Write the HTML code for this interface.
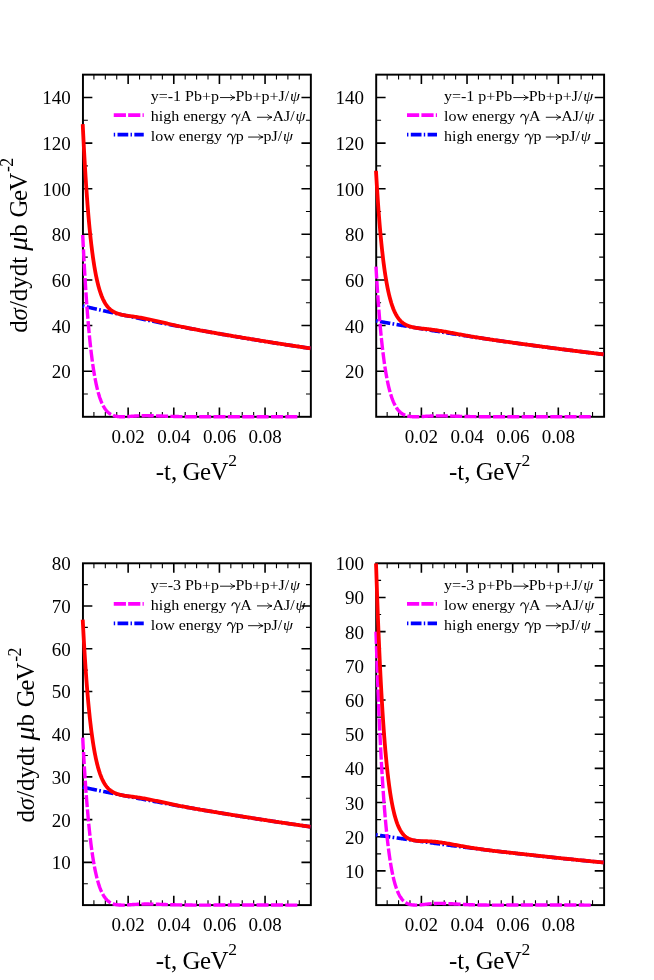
<!DOCTYPE html>
<html><head><meta charset="utf-8"><title>plot</title>
<style>
html,body{margin:0;padding:0;background:#fff;}
svg{display:block;will-change:transform;}
text{font-family:"Liberation Serif",serif;fill:#000;}
.tk{font-size:19.0px;}
.lg{font-size:16.0px;}
.ti{font-size:24.9px;}
.gi{font-style:italic;}
</style></head><body>
<svg width="654" height="980" viewBox="0 0 654 980">
<rect x="0" y="0" width="654" height="980" fill="#fff"/>
<g>
<rect x="82.95" y="74.65" width="227.9" height="342.15" fill="none" stroke="#000" stroke-width="1.95"/>
<path d="M128.14 416.8v-9.4M128.14 74.65v9.4M173.78 416.8v-9.4M173.78 74.65v9.4M219.42 416.8v-9.4M219.42 74.65v9.4M265.06 416.8v-9.4M265.06 74.65v9.4M82.95 371.18h9.4M310.85 371.18h-9.4M82.95 325.56h9.4M310.85 325.56h-9.4M82.95 279.94h9.4M310.85 279.94h-9.4M82.95 234.32h9.4M310.85 234.32h-9.4M82.95 188.7h9.4M310.85 188.7h-9.4M82.95 143.08h9.4M310.85 143.08h-9.4M82.95 97.46h9.4M310.85 97.46h-9.4" stroke="#000" stroke-width="1.6" fill="none"/>
<path d="M93.91 416.8v-4.9M93.91 74.65v4.9M105.32 416.8v-4.9M105.32 74.65v4.9M116.73 416.8v-4.9M116.73 74.65v4.9M139.55 416.8v-4.9M139.55 74.65v4.9M150.96 416.8v-4.9M150.96 74.65v4.9M162.37 416.8v-4.9M162.37 74.65v4.9M185.19 416.8v-4.9M185.19 74.65v4.9M196.6 416.8v-4.9M196.6 74.65v4.9M208.01 416.8v-4.9M208.01 74.65v4.9M230.83 416.8v-4.9M230.83 74.65v4.9M242.24 416.8v-4.9M242.24 74.65v4.9M253.65 416.8v-4.9M253.65 74.65v4.9M276.47 416.8v-4.9M276.47 74.65v4.9M287.88 416.8v-4.9M287.88 74.65v4.9M299.29 416.8v-4.9M299.29 74.65v4.9M82.95 393.99h4.9M310.85 393.99h-4.9M82.95 348.37h4.9M310.85 348.37h-4.9M82.95 302.75h4.9M310.85 302.75h-4.9M82.95 257.13h4.9M310.85 257.13h-4.9M82.95 211.51h4.9M310.85 211.51h-4.9M82.95 165.89h4.9M310.85 165.89h-4.9M82.95 120.27h4.9M310.85 120.27h-4.9" stroke="#000" stroke-width="1.1" fill="none"/>
<text class="tk" x="128.24" y="442.5" text-anchor="middle">0.02</text>
<text class="tk" x="173.88" y="442.5" text-anchor="middle">0.04</text>
<text class="tk" x="219.52" y="442.5" text-anchor="middle">0.06</text>
<text class="tk" x="265.16" y="442.5" text-anchor="middle">0.08</text>
<text class="tk" x="70.75" y="378.18" text-anchor="end">20</text>
<text class="tk" x="70.75" y="332.56" text-anchor="end">40</text>
<text class="tk" x="70.75" y="286.94" text-anchor="end">60</text>
<text class="tk" x="70.75" y="241.32" text-anchor="end">80</text>
<text class="tk" x="70.75" y="195.7" text-anchor="end">100</text>
<text class="tk" x="70.75" y="150.08" text-anchor="end">120</text>
<text class="tk" x="70.75" y="104.46" text-anchor="end">140</text>
<text class="ti" x="155.75" y="480">-t, <tspan dx="-1">G</tspan><tspan dx="-0.4">e</tspan><tspan dx="-0.6">V</tspan><tspan dy="-14" dx="-0.3" font-size="17.5px">2</tspan></text>
<text class="ti" transform="translate(26.6 332.85) rotate(-90)">d<tspan class="gi">σ</tspan>/dydt <tspan class="gi" font-size="28px">μ</tspan>b <tspan dx="0.5">G</tspan><tspan dx="-1.5">e</tspan><tspan dx="-0.8">V</tspan><tspan dy="-13.4" dx="0.7" font-size="17.8px">-</tspan><tspan dx="-0.7" font-size="17.8px">2</tspan></text>
<polyline points="82.73,305.94 83.01,306.01 83.3,306.08 83.58,306.14 83.86,306.21 84.15,306.28 84.43,306.34 84.71,306.41 85,306.47 85.28,306.54 85.57,306.61 85.85,306.67 86.13,306.74 86.42,306.81 86.7,306.87 86.99,306.94 87.27,307 87.55,307.07 87.84,307.14 88.12,307.2 88.4,307.27 88.69,307.33 88.97,307.4 89.26,307.46 89.54,307.53 89.82,307.6 90.11,307.66 90.39,307.73 90.68,307.79 90.96,307.86 91.24,307.92 91.53,307.99 91.81,308.05 92.09,308.12 92.38,308.18 92.66,308.25 92.95,308.32 93.23,308.38 93.51,308.45 93.8,308.51 94.08,308.58 94.36,308.64 94.65,308.71 94.93,308.77 95.22,308.84 95.5,308.9 95.78,308.96 96.07,309.03 96.35,309.09 96.64,309.16 96.92,309.22 97.2,309.29 97.49,309.35 97.77,309.42 98.05,309.48 98.34,309.55 98.62,309.61 98.91,309.68 99.19,309.74 99.47,309.8 99.76,309.87 100.04,309.93 100.33,310 100.61,310.06 100.89,310.12 101.18,310.19 101.46,310.25 101.74,310.32 102.03,310.38 102.31,310.44 102.6,310.51 102.88,310.57 103.16,310.64 103.45,310.7 103.73,310.76 104.01,310.83 104.3,310.89 104.58,310.95 104.87,311.02 105.15,311.08 105.43,311.15 105.72,311.21 106,311.27 106.29,311.34 106.57,311.4 106.85,311.46 107.14,311.53 107.42,311.59 107.7,311.65 107.99,311.71 108.27,311.78 108.56,311.84 108.84,311.9 109.12,311.97 109.41,312.03 109.69,312.09 109.98,312.16 110.26,312.22 110.54,312.28 110.83,312.34 111.11,312.41 111.39,312.47 111.68,312.53 111.96,312.59 112.25,312.66 112.53,312.72 112.81,312.78 113.1,312.84 113.38,312.91 113.66,312.97 113.95,313.03 114.23,313.09 114.52,313.16 114.8,313.22 115.08,313.28 115.37,313.34 115.65,313.41 115.94,313.47 116.22,313.53 116.5,313.59 116.79,313.65 117.07,313.72 117.35,313.78 117.64,313.84 117.92,313.9 118.21,313.96 118.49,314.02 118.77,314.09 119.06,314.15 119.34,314.21 119.63,314.27 119.91,314.33 120.19,314.39 120.48,314.46 120.76,314.52 121.04,314.58 121.33,314.64 121.61,314.7 121.9,314.76 122.18,314.82 122.46,314.89 122.75,314.95 123.03,315.01 123.31,315.07 123.6,315.13 123.88,315.19 124.17,315.25 124.45,315.31 124.73,315.37 125.02,315.43 125.3,315.5 125.59,315.56 125.87,315.62 126.15,315.68 126.44,315.74 126.72,315.8 127,315.86 127.29,315.92 127.57,315.98 127.86,316.04 128.14,316.1 129.28,316.35 130.42,316.59 131.56,316.83 132.7,317.07 133.84,317.31 134.98,317.55 136.12,317.79 137.26,318.03 138.4,318.26 139.54,318.5 140.68,318.74 141.81,318.98 142.95,319.21 144.09,319.45 145.23,319.68 146.37,319.91 147.51,320.15 148.65,320.38 149.79,320.61 150.93,320.84 152.07,321.08 153.21,321.31 154.35,321.54 155.49,321.77 156.63,322 157.77,322.22 158.91,322.45 160.05,322.68 161.19,322.91 162.33,323.13 163.47,323.36 164.61,323.58 165.75,323.81 166.89,324.03 168.03,324.25 169.16,324.48 170.3,324.7 171.44,324.92 172.58,325.14 173.72,325.36 174.86,325.58 176,325.8 177.14,326.02 178.28,326.24 179.42,326.46 180.56,326.68 181.7,326.89 182.84,327.11 183.98,327.33 185.12,327.54 186.26,327.76 187.4,327.97 188.54,328.19 189.68,328.4 190.82,328.61 191.96,328.83 193.1,329.04 194.24,329.25 195.37,329.46 196.51,329.67 197.65,329.88 198.79,330.09 199.93,330.3 201.07,330.51 202.21,330.71 203.35,330.92 204.49,331.13 205.63,331.34 206.77,331.54 207.91,331.75 209.05,331.95 210.19,332.16 211.33,332.36 212.47,332.56 213.61,332.77 214.75,332.97 215.89,333.17 217.03,333.37 218.17,333.57 219.31,333.77 220.45,333.97 221.59,334.17 222.72,334.37 223.86,334.57 225,334.77 226.14,334.97 227.28,335.16 228.42,335.36 229.56,335.56 230.7,335.75 231.84,335.95 232.98,336.14 234.12,336.34 235.26,336.53 236.4,336.72 237.54,336.92 238.68,337.11 239.82,337.3 240.96,337.49 242.1,337.68 243.24,337.87 244.38,338.06 245.52,338.25 246.66,338.44 247.8,338.63 248.93,338.82 250.07,339.01 251.21,339.2 252.35,339.38 253.49,339.57 254.63,339.75 255.77,339.94 256.91,340.13 258.05,340.31 259.19,340.49 260.33,340.68 261.47,340.86 262.61,341.04 263.75,341.23 264.89,341.41 266.03,341.59 267.17,341.77 268.31,341.95 269.45,342.13 270.59,342.31 271.73,342.49 272.87,342.67 274.01,342.85 275.15,343.03 276.28,343.21 277.42,343.38 278.56,343.56 279.7,343.74 280.84,343.91 281.98,344.09 283.12,344.26 284.26,344.44 285.4,344.61 286.54,344.79 287.68,344.96 288.82,345.13 289.96,345.31 291.1,345.48 292.24,345.65 293.38,345.82 294.52,345.99 295.66,346.16 296.8,346.33 297.94,346.5 299.08,346.67 300.22,346.84 301.36,347.01 302.49,347.18 303.63,347.35 304.77,347.51 305.91,347.68 307.05,347.85 308.19,348.01 309.33,348.18 310.47,348.34" fill="none" stroke="#0000ff" stroke-width="3.6" stroke-dasharray="1.7 2.4 10.4 2.3"/>
<polyline points="82.73,235 83.01,240.9 83.3,246.62 83.58,252.18 83.86,257.57 84.15,262.8 84.43,267.87 84.71,272.8 85,277.58 85.28,282.22 85.57,286.71 85.85,291.08 86.13,295.31 86.42,299.41 86.7,303.39 86.99,307.25 87.27,310.99 87.55,314.62 87.84,318.14 88.12,321.55 88.4,324.85 88.69,328.06 88.97,331.16 89.26,334.17 89.54,337.08 89.82,339.91 90.11,342.64 90.39,345.29 90.68,347.85 90.96,350.34 91.24,352.74 91.53,355.07 91.81,357.33 92.09,359.51 92.38,361.62 92.66,363.66 92.95,365.64 93.23,367.55 93.51,369.41 93.8,371.2 94.08,372.93 94.36,374.6 94.65,376.22 94.93,377.79 95.22,379.3 95.5,380.76 95.78,382.17 96.07,383.54 96.35,384.86 96.64,386.13 96.92,387.36 97.2,388.55 97.49,389.7 97.77,390.8 98.05,391.87 98.34,392.9 98.62,393.9 98.91,394.86 99.19,395.78 99.47,396.68 99.76,397.54 100.04,398.37 100.33,399.17 100.61,399.94 100.89,400.68 101.18,401.39 101.46,402.08 101.74,402.74 102.03,403.38 102.31,404 102.6,404.59 102.88,405.15 103.16,405.7 103.45,406.23 103.73,406.73 104.01,407.21 104.3,407.68 104.58,408.13 104.87,408.56 105.15,408.97 105.43,409.36 105.72,409.74 106,410.11 106.29,410.46 106.57,410.79 106.85,411.11 107.14,411.42 107.42,411.71 107.7,411.99 107.99,412.26 108.27,412.51 108.56,412.76 108.84,412.99 109.12,413.22 109.41,413.43 109.69,413.63 109.98,413.83 110.26,414.01 110.54,414.19 110.83,414.36 111.11,414.52 111.39,414.67 111.68,414.81 111.96,414.95 112.25,415.08 112.53,415.2 112.81,415.31 113.1,415.42 113.38,415.53 113.66,415.63 113.95,415.72 114.23,415.81 114.52,415.89 114.8,415.97 115.08,416.04 115.37,416.11 115.65,416.17 115.94,416.23 116.22,416.29 116.5,416.34 116.79,416.39 117.07,416.43 117.35,416.47 117.64,416.51 117.92,416.55 118.21,416.58 118.49,416.61 118.77,416.64 119.06,416.66 119.34,416.68 119.63,416.7 119.91,416.72 120.19,416.73 120.48,416.75 120.76,416.76 121.04,416.77 121.33,416.78 121.61,416.79 121.9,416.79 122.18,416.8 122.46,416.8 122.75,416.8 123.03,416.8 123.31,416.8 123.6,416.79 123.88,416.79 124.17,416.78 124.45,416.77 124.73,416.76 125.02,416.75 125.3,416.74 125.59,416.73 125.87,416.71 126.15,416.69 126.44,416.68 126.72,416.66 127,416.64 127.29,416.62 127.57,416.6 127.86,416.58 128.14,416.56 129.28,416.47 130.42,416.38 131.56,416.29 132.7,416.21 133.84,416.12 134.98,416.04 136.12,415.97 137.26,415.9 138.4,415.85 139.54,415.8 140.68,415.76 141.81,415.72 142.95,415.7 144.09,415.68 145.23,415.67 146.37,415.67 147.51,415.67 148.65,415.68 149.79,415.7 150.93,415.71 152.07,415.74 153.21,415.77 154.35,415.8 155.49,415.83 156.63,415.87 157.77,415.9 158.91,415.94 160.05,415.98 161.19,416.03 162.33,416.07 163.47,416.11 164.61,416.15 165.75,416.19 166.89,416.23 168.03,416.27 169.16,416.31 170.3,416.35 171.44,416.39 172.58,416.42 173.72,416.46 174.86,416.49 176,416.52 177.14,416.55 178.28,416.57 179.42,416.6 180.56,416.62 181.7,416.64 182.84,416.66 183.98,416.68 185.12,416.7 186.26,416.71 187.4,416.73 188.54,416.74 189.68,416.75 190.82,416.76 191.96,416.77 193.1,416.78 194.24,416.78 195.37,416.79 196.51,416.79 197.65,416.8 198.79,416.8 199.93,416.8 201.07,416.8 202.21,416.8 203.35,416.8 204.49,416.8 205.63,416.8 206.77,416.79 207.91,416.79 209.05,416.79 210.19,416.79 211.33,416.78 212.47,416.78 213.61,416.78 214.75,416.77 215.89,416.77 217.03,416.77 218.17,416.76 219.31,416.76 220.45,416.75 221.59,416.75 222.72,416.75 223.86,416.74 225,416.74 226.14,416.74 227.28,416.73 228.42,416.73 229.56,416.73 230.7,416.73 231.84,416.72 232.98,416.72 234.12,416.72 235.26,416.72 236.4,416.72 237.54,416.72 238.68,416.72 239.82,416.72 240.96,416.72 242.1,416.71 243.24,416.71 244.38,416.71 245.52,416.72 246.66,416.72 247.8,416.72 248.93,416.72 250.07,416.72 251.21,416.72 252.35,416.72 253.49,416.72 254.63,416.72 255.77,416.72 256.91,416.73 258.05,416.73 259.19,416.73 260.33,416.73 261.47,416.73 262.61,416.74 263.75,416.74 264.89,416.74 266.03,416.74 267.17,416.74 268.31,416.75 269.45,416.75 270.59,416.75 271.73,416.75 272.87,416.75 274.01,416.76 275.15,416.76 276.28,416.76 277.42,416.76 278.56,416.76 279.7,416.77 280.84,416.77 281.98,416.77 283.12,416.77 284.26,416.77 285.4,416.78 286.54,416.78 287.68,416.78 288.82,416.78 289.96,416.78 291.1,416.78 292.24,416.79 293.38,416.79 294.52,416.79 295.66,416.79 296.8,416.79 297.5,416.79" fill="none" stroke="#ff00ff" stroke-width="3.4" stroke-dasharray="12.07 2.3"/>
<polyline points="82.73,124.15 83.01,130.11 83.3,135.9 83.58,141.52 83.86,146.98 84.15,152.27 84.43,157.42 84.71,162.41 85,167.25 85.28,171.96 85.57,176.52 85.85,180.95 86.13,185.25 86.42,189.42 86.7,193.46 86.99,197.39 87.27,201.2 87.55,204.89 87.84,208.48 88.12,211.95 88.4,215.32 88.69,218.59 88.97,221.76 89.26,224.83 89.54,227.81 89.82,230.7 90.11,233.5 90.39,236.22 90.68,238.85 90.96,241.4 91.24,243.87 91.53,246.26 91.81,248.58 92.09,250.83 92.38,253 92.66,255.11 92.95,257.16 93.23,259.13 93.51,261.05 93.8,262.91 94.08,264.7 94.36,266.44 94.65,268.13 94.93,269.76 95.22,271.33 95.5,272.86 95.78,274.34 96.07,275.77 96.35,277.15 96.64,278.49 96.92,279.79 97.2,281.04 97.49,282.25 97.77,283.42 98.05,284.55 98.34,285.65 98.62,286.71 98.91,287.73 99.19,288.72 99.47,289.68 99.76,290.61 100.04,291.5 100.33,292.36 100.61,293.2 100.89,294 101.18,294.78 101.46,295.53 101.74,296.26 102.03,296.96 102.31,297.64 102.6,298.29 102.88,298.93 103.16,299.54 103.45,300.12 103.73,300.69 104.01,301.24 104.3,301.77 104.58,302.28 104.87,302.78 105.15,303.25 105.43,303.71 105.72,304.15 106,304.58 106.29,304.99 106.57,305.39 106.85,305.77 107.14,306.14 107.42,306.5 107.7,306.84 107.99,307.17 108.27,307.49 108.56,307.8 108.84,308.1 109.12,308.38 109.41,308.66 109.69,308.93 109.98,309.18 110.26,309.43 110.54,309.67 110.83,309.9 111.11,310.12 111.39,310.34 111.68,310.54 111.96,310.74 112.25,310.93 112.53,311.12 112.81,311.3 113.1,311.47 113.38,311.64 113.66,311.8 113.95,311.95 114.23,312.1 114.52,312.25 114.8,312.39 115.08,312.52 115.37,312.65 115.65,312.78 115.94,312.9 116.22,313.02 116.5,313.13 116.79,313.24 117.07,313.35 117.35,313.45 117.64,313.55 117.92,313.65 118.21,313.74 118.49,313.83 118.77,313.92 119.06,314.01 119.34,314.09 119.63,314.17 119.91,314.25 120.19,314.33 120.48,314.4 120.76,314.48 121.04,314.55 121.33,314.62 121.61,314.69 121.9,314.75 122.18,314.82 122.46,314.88 122.75,314.95 123.03,315.01 123.31,315.07 123.6,315.12 123.88,315.18 124.17,315.23 124.45,315.29 124.73,315.34 125.02,315.39 125.3,315.44 125.59,315.48 125.87,315.53 126.15,315.57 126.44,315.62 126.72,315.66 127,315.7 127.29,315.74 127.57,315.78 127.86,315.82 128.14,315.86 129.28,316.02 130.42,316.17 131.56,316.32 132.7,316.47 133.84,316.63 134.98,316.79 136.12,316.96 137.26,317.13 138.4,317.31 139.54,317.5 140.68,317.7 141.81,317.9 142.95,318.11 144.09,318.33 145.23,318.55 146.37,318.78 147.51,319.02 148.65,319.26 149.79,319.51 150.93,319.76 152.07,320.01 153.21,320.27 154.35,320.53 155.49,320.8 156.63,321.06 157.77,321.33 158.91,321.6 160.05,321.86 161.19,322.13 162.33,322.4 163.47,322.67 164.61,322.93 165.75,323.2 166.89,323.46 168.03,323.73 169.16,323.99 170.3,324.25 171.44,324.51 172.58,324.76 173.72,325.02 174.86,325.27 176,325.52 177.14,325.77 178.28,326.01 179.42,326.26 180.56,326.5 181.7,326.74 182.84,326.98 183.98,327.21 185.12,327.44 186.26,327.67 187.4,327.9 188.54,328.13 189.68,328.35 190.82,328.57 191.96,328.8 193.1,329.01 194.24,329.23 195.37,329.45 196.51,329.66 197.65,329.88 198.79,330.09 199.93,330.3 201.07,330.51 202.21,330.71 203.35,330.92 204.49,331.13 205.63,331.33 206.77,331.54 207.91,331.74 209.05,331.94 210.19,332.14 211.33,332.34 212.47,332.54 213.61,332.74 214.75,332.94 215.89,333.14 217.03,333.34 218.17,333.53 219.31,333.73 220.45,333.93 221.59,334.12 222.72,334.32 223.86,334.51 225,334.71 226.14,334.9 227.28,335.1 228.42,335.29 229.56,335.49 230.7,335.68 231.84,335.87 232.98,336.06 234.12,336.26 235.26,336.45 236.4,336.64 237.54,336.83 238.68,337.03 239.82,337.22 240.96,337.41 242.1,337.6 243.24,337.79 244.38,337.98 245.52,338.17 246.66,338.36 247.8,338.55 248.93,338.74 250.07,338.93 251.21,339.11 252.35,339.3 253.49,339.49 254.63,339.68 255.77,339.86 256.91,340.05 258.05,340.24 259.19,340.42 260.33,340.61 261.47,340.8 262.61,340.98 263.75,341.16 264.89,341.35 266.03,341.53 267.17,341.72 268.31,341.9 269.45,342.08 270.59,342.26 271.73,342.44 272.87,342.63 274.01,342.81 275.15,342.99 276.28,343.17 277.42,343.35 278.56,343.52 279.7,343.7 280.84,343.88 281.98,344.06 283.12,344.24 284.26,344.41 285.4,344.59 286.54,344.76 287.68,344.94 288.82,345.11 289.96,345.29 291.1,345.46 292.24,345.63 293.38,345.81 294.52,345.98 295.66,346.15 296.8,346.32 297.94,346.49 299.08,346.66 300.22,346.83 301.36,347 302.49,347.17 303.63,347.34 304.77,347.51 305.91,347.68 307.05,347.84 308.19,348.01 309.33,348.18 310.47,348.34" fill="none" stroke="#ff0000" stroke-width="3.8" stroke-linejoin="round"/>
<line x1="113.75" y1="115.15" x2="143.75" y2="115.15" stroke="#ff00ff" stroke-width="3.7" stroke-dasharray="12.2 2.2"/>
<line x1="113.75" y1="134.65" x2="143.75" y2="134.65" stroke="#0000ff" stroke-width="3.7" stroke-dasharray="1.4 2.4 10.7 2.3"/>
<text class="lg" transform="translate(150.75 101.35) scale(1 0.95)">y=-1 </text>
<text class="lg" transform="translate(185.1 101.35) scale(1 0.95)">Pb+p</text>
<path d="M220.02 97.55H235.02M230.42 94.85Q232.42 96.95 235.02 97.55Q232.42 98.15 230.42 100.25" fill="none" stroke="#000" stroke-width="0.9"/>
<text class="lg" transform="translate(235.62 101.35) scale(1 0.95)">Pb+p+J/</text>
<text class="lg gi" transform="translate(290.04 101.35) scale(1 0.95)">ψ</text>
<text class="lg" transform="translate(150.75 121.05) scale(1 0.95)">high energy </text>
<g transform="translate(231.74 121.05)" fill="none" stroke="#000" stroke-linecap="round"><path d="M0.2,-4C0.6,-5.8 1.4,-6.9 2.6,-6.9C4.6,-6.9 5.7,-3.5 5.4,-0.5L4.9,3" stroke-width="1.05"/><path d="M8.3,-6.9C7.6,-4.5 6.5,-2.3 5.4,-0.5" stroke-width="0.8"/></g>
<text class="lg" transform="translate(240.24 121.05) scale(1 0.95)">A</text>
<path d="M256.99 117.25H271.99M267.39 114.55Q269.39 116.65 271.99 117.25Q269.39 117.85 267.39 119.95" fill="none" stroke="#000" stroke-width="0.9"/>
<text class="lg" transform="translate(272.49 121.05) scale(1 0.95)">AJ/</text>
<text class="lg gi" transform="translate(295.42 121.05) scale(1 0.95)">ψ</text>
<text class="lg" transform="translate(150.75 140.85) scale(1 0.95)">low energy </text>
<g transform="translate(227.29 140.85)" fill="none" stroke="#000" stroke-linecap="round"><path d="M0.2,-4C0.6,-5.8 1.4,-6.9 2.6,-6.9C4.6,-6.9 5.7,-3.5 5.4,-0.5L4.9,3" stroke-width="1.05"/><path d="M8.3,-6.9C7.6,-4.5 6.5,-2.3 5.4,-0.5" stroke-width="0.8"/></g>
<text class="lg" transform="translate(235.79 140.85) scale(1 0.95)">p</text>
<path d="M248.09 137.05H263.09M258.49 134.35Q260.49 136.45 263.09 137.05Q260.49 137.65 258.49 139.75" fill="none" stroke="#000" stroke-width="0.9"/>
<text class="lg" transform="translate(263.59 140.85) scale(1 0.95)">pJ/</text>
<text class="lg gi" transform="translate(282.96 140.85) scale(1 0.95)">ψ</text>
</g>
<g>
<rect x="376.2" y="74.65" width="227.9" height="342.15" fill="none" stroke="#000" stroke-width="1.95"/>
<path d="M421.39 416.8v-9.4M421.39 74.65v9.4M467.03 416.8v-9.4M467.03 74.65v9.4M512.67 416.8v-9.4M512.67 74.65v9.4M558.31 416.8v-9.4M558.31 74.65v9.4M376.2 371.18h9.4M604.1 371.18h-9.4M376.2 325.56h9.4M604.1 325.56h-9.4M376.2 279.94h9.4M604.1 279.94h-9.4M376.2 234.32h9.4M604.1 234.32h-9.4M376.2 188.7h9.4M604.1 188.7h-9.4M376.2 143.08h9.4M604.1 143.08h-9.4M376.2 97.46h9.4M604.1 97.46h-9.4" stroke="#000" stroke-width="1.6" fill="none"/>
<path d="M387.16 416.8v-4.9M387.16 74.65v4.9M398.57 416.8v-4.9M398.57 74.65v4.9M409.98 416.8v-4.9M409.98 74.65v4.9M432.8 416.8v-4.9M432.8 74.65v4.9M444.21 416.8v-4.9M444.21 74.65v4.9M455.62 416.8v-4.9M455.62 74.65v4.9M478.44 416.8v-4.9M478.44 74.65v4.9M489.85 416.8v-4.9M489.85 74.65v4.9M501.26 416.8v-4.9M501.26 74.65v4.9M524.08 416.8v-4.9M524.08 74.65v4.9M535.49 416.8v-4.9M535.49 74.65v4.9M546.9 416.8v-4.9M546.9 74.65v4.9M569.72 416.8v-4.9M569.72 74.65v4.9M581.13 416.8v-4.9M581.13 74.65v4.9M592.54 416.8v-4.9M592.54 74.65v4.9M376.2 393.99h4.9M604.1 393.99h-4.9M376.2 348.37h4.9M604.1 348.37h-4.9M376.2 302.75h4.9M604.1 302.75h-4.9M376.2 257.13h4.9M604.1 257.13h-4.9M376.2 211.51h4.9M604.1 211.51h-4.9M376.2 165.89h4.9M604.1 165.89h-4.9M376.2 120.27h4.9M604.1 120.27h-4.9" stroke="#000" stroke-width="1.1" fill="none"/>
<text class="tk" x="421.49" y="442.5" text-anchor="middle">0.02</text>
<text class="tk" x="467.13" y="442.5" text-anchor="middle">0.04</text>
<text class="tk" x="512.77" y="442.5" text-anchor="middle">0.06</text>
<text class="tk" x="558.41" y="442.5" text-anchor="middle">0.08</text>
<text class="tk" x="364" y="378.18" text-anchor="end">20</text>
<text class="tk" x="364" y="332.56" text-anchor="end">40</text>
<text class="tk" x="364" y="286.94" text-anchor="end">60</text>
<text class="tk" x="364" y="241.32" text-anchor="end">80</text>
<text class="tk" x="364" y="195.7" text-anchor="end">100</text>
<text class="tk" x="364" y="150.08" text-anchor="end">120</text>
<text class="tk" x="364" y="104.46" text-anchor="end">140</text>
<text class="ti" x="449" y="480">-t, <tspan dx="-1">G</tspan><tspan dx="-0.4">e</tspan><tspan dx="-0.6">V</tspan><tspan dy="-14" dx="-0.3" font-size="17.5px">2</tspan></text>
<polyline points="375.98,320.84 376.26,320.89 376.55,320.94 376.83,320.99 377.11,321.04 377.4,321.1 377.68,321.15 377.96,321.2 378.25,321.25 378.53,321.3 378.82,321.35 379.1,321.4 379.38,321.45 379.67,321.5 379.95,321.56 380.24,321.61 380.52,321.66 380.8,321.71 381.09,321.76 381.37,321.81 381.65,321.86 381.94,321.91 382.22,321.96 382.51,322.01 382.79,322.07 383.07,322.12 383.36,322.17 383.64,322.22 383.93,322.27 384.21,322.32 384.49,322.37 384.78,322.42 385.06,322.47 385.34,322.52 385.63,322.57 385.91,322.62 386.2,322.67 386.48,322.72 386.76,322.77 387.05,322.82 387.33,322.87 387.61,322.92 387.9,322.97 388.18,323.02 388.47,323.08 388.75,323.13 389.03,323.18 389.32,323.23 389.6,323.28 389.89,323.33 390.17,323.38 390.45,323.43 390.74,323.48 391.02,323.53 391.3,323.58 391.59,323.63 391.87,323.68 392.16,323.73 392.44,323.78 392.72,323.83 393.01,323.88 393.29,323.93 393.58,323.98 393.86,324.02 394.14,324.07 394.43,324.12 394.71,324.17 394.99,324.22 395.28,324.27 395.56,324.32 395.85,324.37 396.13,324.42 396.41,324.47 396.7,324.52 396.98,324.57 397.26,324.62 397.55,324.67 397.83,324.72 398.12,324.77 398.4,324.82 398.68,324.87 398.97,324.92 399.25,324.97 399.54,325.01 399.82,325.06 400.1,325.11 400.39,325.16 400.67,325.21 400.95,325.26 401.24,325.31 401.52,325.36 401.81,325.41 402.09,325.46 402.37,325.51 402.66,325.55 402.94,325.6 403.23,325.65 403.51,325.7 403.79,325.75 404.08,325.8 404.36,325.85 404.64,325.9 404.93,325.94 405.21,325.99 405.5,326.04 405.78,326.09 406.06,326.14 406.35,326.19 406.63,326.24 406.91,326.28 407.2,326.33 407.48,326.38 407.77,326.43 408.05,326.48 408.33,326.53 408.62,326.58 408.9,326.62 409.19,326.67 409.47,326.72 409.75,326.77 410.04,326.82 410.32,326.87 410.6,326.91 410.89,326.96 411.17,327.01 411.46,327.06 411.74,327.11 412.02,327.15 412.31,327.2 412.59,327.25 412.88,327.3 413.16,327.35 413.44,327.39 413.73,327.44 414.01,327.49 414.29,327.54 414.58,327.59 414.86,327.63 415.15,327.68 415.43,327.73 415.71,327.78 416,327.82 416.28,327.87 416.56,327.92 416.85,327.97 417.13,328.01 417.42,328.06 417.7,328.11 417.98,328.16 418.27,328.2 418.55,328.25 418.84,328.3 419.12,328.35 419.4,328.39 419.69,328.44 419.97,328.49 420.25,328.54 420.54,328.58 420.82,328.63 421.11,328.68 421.39,328.73 422.53,328.92 423.67,329.1 424.81,329.29 425.95,329.48 427.09,329.67 428.23,329.86 429.37,330.04 430.51,330.23 431.65,330.42 432.79,330.6 433.93,330.79 435.06,330.97 436.2,331.16 437.34,331.34 438.48,331.52 439.62,331.71 440.76,331.89 441.9,332.07 443.04,332.25 444.18,332.44 445.32,332.62 446.46,332.8 447.6,332.98 448.74,333.16 449.88,333.34 451.02,333.52 452.16,333.7 453.3,333.88 454.44,334.06 455.58,334.23 456.72,334.41 457.86,334.59 459,334.76 460.14,334.94 461.28,335.12 462.41,335.29 463.55,335.47 464.69,335.64 465.83,335.82 466.97,335.99 468.11,336.16 469.25,336.34 470.39,336.51 471.53,336.68 472.67,336.86 473.81,337.03 474.95,337.2 476.09,337.37 477.23,337.54 478.37,337.71 479.51,337.88 480.65,338.05 481.79,338.22 482.93,338.39 484.07,338.56 485.21,338.73 486.35,338.89 487.49,339.06 488.62,339.23 489.76,339.4 490.9,339.56 492.04,339.73 493.18,339.89 494.32,340.06 495.46,340.22 496.6,340.39 497.74,340.55 498.88,340.72 500.02,340.88 501.16,341.04 502.3,341.21 503.44,341.37 504.58,341.53 505.72,341.69 506.86,341.85 508,342.02 509.14,342.18 510.28,342.34 511.42,342.5 512.56,342.66 513.7,342.82 514.84,342.98 515.97,343.13 517.11,343.29 518.25,343.45 519.39,343.61 520.53,343.77 521.67,343.92 522.81,344.08 523.95,344.24 525.09,344.39 526.23,344.55 527.37,344.7 528.51,344.86 529.65,345.01 530.79,345.17 531.93,345.32 533.07,345.47 534.21,345.63 535.35,345.78 536.49,345.93 537.63,346.09 538.77,346.24 539.91,346.39 541.05,346.54 542.18,346.69 543.32,346.84 544.46,346.99 545.6,347.14 546.74,347.29 547.88,347.44 549.02,347.59 550.16,347.74 551.3,347.89 552.44,348.04 553.58,348.18 554.72,348.33 555.86,348.48 557,348.63 558.14,348.77 559.28,348.92 560.42,349.07 561.56,349.21 562.7,349.36 563.84,349.5 564.98,349.65 566.12,349.79 567.26,349.93 568.4,350.08 569.53,350.22 570.67,350.36 571.81,350.51 572.95,350.65 574.09,350.79 575.23,350.93 576.37,351.08 577.51,351.22 578.65,351.36 579.79,351.5 580.93,351.64 582.07,351.78 583.21,351.92 584.35,352.06 585.49,352.2 586.63,352.34 587.77,352.48 588.91,352.61 590.05,352.75 591.19,352.89 592.33,353.03 593.47,353.16 594.61,353.3 595.74,353.44 596.88,353.57 598.02,353.71 599.16,353.85 600.3,353.98 601.44,354.12 602.58,354.25 603.72,354.38" fill="none" stroke="#0000ff" stroke-width="3.6" stroke-dasharray="1.7 2.4 10.4 2.3"/>
<polyline points="375.98,266.71 376.26,271.58 376.55,276.3 376.83,280.89 377.11,285.34 377.4,289.66 377.68,293.85 377.96,297.91 378.25,301.86 378.53,305.69 378.82,309.4 379.1,313 379.38,316.5 379.67,319.89 379.95,323.17 380.24,326.36 380.52,329.45 380.8,332.44 381.09,335.35 381.37,338.16 381.65,340.89 381.94,343.53 382.22,346.1 382.51,348.58 382.79,350.99 383.07,353.32 383.36,355.57 383.64,357.76 383.93,359.88 384.21,361.93 384.49,363.91 384.78,365.84 385.06,367.7 385.34,369.5 385.63,371.24 385.91,372.93 386.2,374.56 386.48,376.14 386.76,377.67 387.05,379.15 387.33,380.58 387.61,381.96 387.9,383.3 388.18,384.59 388.47,385.84 388.75,387.05 389.03,388.21 389.32,389.34 389.6,390.43 389.89,391.48 390.17,392.5 390.45,393.48 390.74,394.42 391.02,395.34 391.3,396.22 391.59,397.07 391.87,397.89 392.16,398.68 392.44,399.45 392.72,400.19 393.01,400.9 393.29,401.58 393.58,402.24 393.86,402.88 394.14,403.49 394.43,404.08 394.71,404.65 394.99,405.2 395.28,405.72 395.56,406.23 395.85,406.72 396.13,407.19 396.41,407.64 396.7,408.07 396.98,408.49 397.26,408.89 397.55,409.27 397.83,409.64 398.12,409.99 398.4,410.33 398.68,410.66 398.97,410.97 399.25,411.27 399.54,411.56 399.82,411.84 400.1,412.1 400.39,412.36 400.67,412.6 400.95,412.83 401.24,413.05 401.52,413.26 401.81,413.46 402.09,413.66 402.37,413.84 402.66,414.02 402.94,414.19 403.23,414.35 403.51,414.5 403.79,414.64 404.08,414.78 404.36,414.91 404.64,415.04 404.93,415.16 405.21,415.27 405.5,415.38 405.78,415.48 406.06,415.57 406.35,415.66 406.63,415.75 406.91,415.83 407.2,415.91 407.48,415.98 407.77,416.05 408.05,416.11 408.33,416.17 408.62,416.23 408.9,416.28 409.19,416.33 409.47,416.38 409.75,416.42 410.04,416.46 410.32,416.5 410.6,416.53 410.89,416.56 411.17,416.59 411.46,416.62 411.74,416.64 412.02,416.66 412.31,416.68 412.59,416.7 412.88,416.72 413.16,416.73 413.44,416.75 413.73,416.76 414.01,416.77 414.29,416.78 414.58,416.78 414.86,416.79 415.15,416.79 415.43,416.8 415.71,416.8 416,416.8 416.28,416.8 416.56,416.8 416.85,416.8 417.13,416.79 417.42,416.79 417.7,416.78 417.98,416.77 418.27,416.76 418.55,416.75 418.84,416.74 419.12,416.73 419.4,416.71 419.69,416.7 419.97,416.68 420.25,416.67 420.54,416.65 420.82,416.64 421.11,416.62 421.39,416.6 422.53,416.53 423.67,416.46 424.81,416.38 425.95,416.31 427.09,416.24 428.23,416.17 429.37,416.11 430.51,416.06 431.65,416.01 432.79,415.97 433.93,415.94 435.06,415.91 436.2,415.89 437.34,415.88 438.48,415.87 439.62,415.87 440.76,415.87 441.9,415.88 443.04,415.89 444.18,415.9 445.32,415.92 446.46,415.95 447.6,415.97 448.74,416 449.88,416.03 451.02,416.06 452.16,416.09 453.3,416.13 454.44,416.16 455.58,416.2 456.72,416.23 457.86,416.26 459,416.3 460.14,416.33 461.28,416.37 462.41,416.4 463.55,416.43 464.69,416.46 465.83,416.49 466.97,416.52 468.11,416.54 469.25,416.57 470.39,416.59 471.53,416.61 472.67,416.63 473.81,416.65 474.95,416.67 476.09,416.69 477.23,416.7 478.37,416.72 479.51,416.73 480.65,416.74 481.79,416.75 482.93,416.76 484.07,416.77 485.21,416.78 486.35,416.78 487.49,416.79 488.62,416.79 489.76,416.79 490.9,416.8 492.04,416.8 493.18,416.8 494.32,416.8 495.46,416.8 496.6,416.8 497.74,416.8 498.88,416.8 500.02,416.8 501.16,416.79 502.3,416.79 503.44,416.79 504.58,416.79 505.72,416.78 506.86,416.78 508,416.78 509.14,416.77 510.28,416.77 511.42,416.77 512.56,416.77 513.7,416.76 514.84,416.76 515.97,416.76 517.11,416.75 518.25,416.75 519.39,416.75 520.53,416.75 521.67,416.74 522.81,416.74 523.95,416.74 525.09,416.74 526.23,416.74 527.37,416.73 528.51,416.73 529.65,416.73 530.79,416.73 531.93,416.73 533.07,416.73 534.21,416.73 535.35,416.73 536.49,416.73 537.63,416.73 538.77,416.73 539.91,416.73 541.05,416.73 542.18,416.73 543.32,416.73 544.46,416.73 545.6,416.73 546.74,416.74 547.88,416.74 549.02,416.74 550.16,416.74 551.3,416.74 552.44,416.74 553.58,416.74 554.72,416.74 555.86,416.75 557,416.75 558.14,416.75 559.28,416.75 560.42,416.75 561.56,416.76 562.7,416.76 563.84,416.76 564.98,416.76 566.12,416.76 567.26,416.76 568.4,416.77 569.53,416.77 570.67,416.77 571.81,416.77 572.95,416.77 574.09,416.77 575.23,416.78 576.37,416.78 577.51,416.78 578.65,416.78 579.79,416.78 580.93,416.78 582.07,416.78 583.21,416.79 584.35,416.79 585.49,416.79 586.63,416.79 587.77,416.79 588.91,416.79 590.05,416.79 590.75,416.79" fill="none" stroke="#ff00ff" stroke-width="3.4" stroke-dasharray="12 2.3"/>
<polyline points="375.98,170.75 376.26,175.67 376.55,180.44 376.83,185.08 377.11,189.58 377.4,193.95 377.68,198.19 377.96,202.31 378.25,206.31 378.53,210.19 378.82,213.95 379.1,217.61 379.38,221.15 379.67,224.59 379.95,227.93 380.24,231.16 380.52,234.31 380.8,237.35 381.09,240.31 381.37,243.17 381.65,245.95 381.94,248.65 382.22,251.26 382.51,253.79 382.79,256.25 383.07,258.63 383.36,260.94 383.64,263.18 383.93,265.35 384.21,267.45 384.49,269.48 384.78,271.46 385.06,273.37 385.34,275.22 385.63,277.01 385.91,278.75 386.2,280.44 386.48,282.07 386.76,283.64 387.05,285.17 387.33,286.65 387.61,288.09 387.9,289.47 388.18,290.81 388.47,292.11 388.75,293.37 389.03,294.59 389.32,295.77 389.6,296.9 389.89,298.01 390.17,299.07 390.45,300.1 390.74,301.1 391.02,302.06 391.3,303 391.59,303.9 391.87,304.77 392.16,305.61 392.44,306.43 392.72,307.21 393.01,307.97 393.29,308.71 393.58,309.42 393.86,310.1 394.14,310.76 394.43,311.4 394.71,312.02 394.99,312.62 395.28,313.2 395.56,313.75 395.85,314.29 396.13,314.81 396.41,315.31 396.7,315.79 396.98,316.26 397.26,316.71 397.55,317.14 397.83,317.56 398.12,317.96 398.4,318.35 398.68,318.73 398.97,319.09 399.25,319.44 399.54,319.78 399.82,320.1 400.1,320.41 400.39,320.72 400.67,321.01 400.95,321.29 401.24,321.56 401.52,321.82 401.81,322.07 402.09,322.31 402.37,322.55 402.66,322.77 402.94,322.99 403.23,323.2 403.51,323.4 403.79,323.59 404.08,323.78 404.36,323.96 404.64,324.13 404.93,324.3 405.21,324.46 405.5,324.62 405.78,324.77 406.06,324.91 406.35,325.05 406.63,325.19 406.91,325.32 407.2,325.44 407.48,325.56 407.77,325.68 408.05,325.79 408.33,325.9 408.62,326 408.9,326.1 409.19,326.2 409.47,326.3 409.75,326.39 410.04,326.48 410.32,326.56 410.6,326.64 410.89,326.72 411.17,326.8 411.46,326.87 411.74,326.95 412.02,327.02 412.31,327.09 412.59,327.15 412.88,327.22 413.16,327.28 413.44,327.34 413.73,327.4 414.01,327.46 414.29,327.51 414.58,327.57 414.86,327.62 415.15,327.67 415.43,327.73 415.71,327.77 416,327.82 416.28,327.87 416.56,327.92 416.85,327.96 417.13,328.01 417.42,328.05 417.7,328.09 417.98,328.13 418.27,328.17 418.55,328.2 418.84,328.24 419.12,328.27 419.4,328.31 419.69,328.34 419.97,328.37 420.25,328.41 420.54,328.44 420.82,328.47 421.11,328.5 421.39,328.53 422.53,328.65 423.67,328.76 424.81,328.87 425.95,328.99 427.09,329.11 428.23,329.23 429.37,329.36 430.51,329.49 431.65,329.63 432.79,329.77 433.93,329.93 435.06,330.08 436.2,330.25 437.34,330.42 438.48,330.59 439.62,330.77 440.76,330.96 441.9,331.15 443.04,331.34 444.18,331.54 445.32,331.74 446.46,331.95 447.6,332.15 448.74,332.36 449.88,332.57 451.02,332.78 452.16,332.99 453.3,333.2 454.44,333.42 455.58,333.63 456.72,333.84 457.86,334.05 459,334.26 460.14,334.47 461.28,334.68 462.41,334.89 463.55,335.1 464.69,335.3 465.83,335.5 466.97,335.71 468.11,335.91 469.25,336.1 470.39,336.3 471.53,336.5 472.67,336.69 473.81,336.88 474.95,337.07 476.09,337.26 477.23,337.44 478.37,337.63 479.51,337.81 480.65,337.99 481.79,338.17 482.93,338.35 484.07,338.53 485.21,338.7 486.35,338.88 487.49,339.05 488.62,339.22 489.76,339.39 490.9,339.56 492.04,339.73 493.18,339.89 494.32,340.06 495.46,340.22 496.6,340.39 497.74,340.55 498.88,340.71 500.02,340.88 501.16,341.04 502.3,341.2 503.44,341.36 504.58,341.52 505.72,341.68 506.86,341.84 508,341.99 509.14,342.15 510.28,342.31 511.42,342.47 512.56,342.62 513.7,342.78 514.84,342.93 515.97,343.09 517.11,343.25 518.25,343.4 519.39,343.56 520.53,343.71 521.67,343.87 522.81,344.02 523.95,344.18 525.09,344.33 526.23,344.48 527.37,344.64 528.51,344.79 529.65,344.95 530.79,345.1 531.93,345.25 533.07,345.4 534.21,345.56 535.35,345.71 536.49,345.86 537.63,346.02 538.77,346.17 539.91,346.32 541.05,346.47 542.18,346.62 543.32,346.78 544.46,346.93 545.6,347.08 546.74,347.23 547.88,347.38 549.02,347.53 550.16,347.68 551.3,347.83 552.44,347.98 553.58,348.13 554.72,348.28 555.86,348.43 557,348.57 558.14,348.72 559.28,348.87 560.42,349.02 561.56,349.17 562.7,349.31 563.84,349.46 564.98,349.61 566.12,349.75 567.26,349.9 568.4,350.04 569.53,350.19 570.67,350.33 571.81,350.48 572.95,350.62 574.09,350.77 575.23,350.91 576.37,351.05 577.51,351.2 578.65,351.34 579.79,351.48 580.93,351.62 582.07,351.76 583.21,351.9 584.35,352.05 585.49,352.19 586.63,352.33 587.77,352.47 588.91,352.6 590.05,352.74 591.19,352.88 592.33,353.02 593.47,353.16 594.61,353.3 595.74,353.43 596.88,353.57 598.02,353.71 599.16,353.84 600.3,353.98 601.44,354.11 602.58,354.25 603.72,354.38" fill="none" stroke="#ff0000" stroke-width="3.8" stroke-linejoin="round"/>
<line x1="407" y1="115.15" x2="437" y2="115.15" stroke="#ff00ff" stroke-width="3.7" stroke-dasharray="12.2 2.2"/>
<line x1="407" y1="134.65" x2="437" y2="134.65" stroke="#0000ff" stroke-width="3.7" stroke-dasharray="1.4 2.4 10.7 2.3"/>
<text class="lg" transform="translate(444 101.35) scale(1 0.95)">y=-1 </text>
<text class="lg" transform="translate(478.35 101.35) scale(1 0.95)">p+Pb</text>
<path d="M513.27 97.55H528.27M523.67 94.85Q525.67 96.95 528.27 97.55Q525.67 98.15 523.67 100.25" fill="none" stroke="#000" stroke-width="0.9"/>
<text class="lg" transform="translate(528.87 101.35) scale(1 0.95)">Pb+p+J/</text>
<text class="lg gi" transform="translate(583.29 101.35) scale(1 0.95)">ψ</text>
<text class="lg" transform="translate(444 121.05) scale(1 0.95)">low energy </text>
<g transform="translate(520.54 121.05)" fill="none" stroke="#000" stroke-linecap="round"><path d="M0.2,-4C0.6,-5.8 1.4,-6.9 2.6,-6.9C4.6,-6.9 5.7,-3.5 5.4,-0.5L4.9,3" stroke-width="1.05"/><path d="M8.3,-6.9C7.6,-4.5 6.5,-2.3 5.4,-0.5" stroke-width="0.8"/></g>
<text class="lg" transform="translate(529.04 121.05) scale(1 0.95)">A</text>
<path d="M545.8 117.25H560.8M556.2 114.55Q558.2 116.65 560.8 117.25Q558.2 117.85 556.2 119.95" fill="none" stroke="#000" stroke-width="0.9"/>
<text class="lg" transform="translate(561.3 121.05) scale(1 0.95)">AJ/</text>
<text class="lg gi" transform="translate(584.22 121.05) scale(1 0.95)">ψ</text>
<text class="lg" transform="translate(444 140.85) scale(1 0.95)">high energy </text>
<g transform="translate(524.99 140.85)" fill="none" stroke="#000" stroke-linecap="round"><path d="M0.2,-4C0.6,-5.8 1.4,-6.9 2.6,-6.9C4.6,-6.9 5.7,-3.5 5.4,-0.5L4.9,3" stroke-width="1.05"/><path d="M8.3,-6.9C7.6,-4.5 6.5,-2.3 5.4,-0.5" stroke-width="0.8"/></g>
<text class="lg" transform="translate(533.49 140.85) scale(1 0.95)">p</text>
<path d="M545.79 137.05H560.79M556.19 134.35Q558.19 136.45 560.79 137.05Q558.19 137.65 556.19 139.75" fill="none" stroke="#000" stroke-width="0.9"/>
<text class="lg" transform="translate(561.29 140.85) scale(1 0.95)">pJ/</text>
<text class="lg gi" transform="translate(580.66 140.85) scale(1 0.95)">ψ</text>
</g>
<g>
<rect x="82.95" y="563.3" width="227.9" height="341.8" fill="none" stroke="#000" stroke-width="1.95"/>
<path d="M128.14 905.1v-9.4M128.14 563.3v9.4M173.78 905.1v-9.4M173.78 563.3v9.4M219.42 905.1v-9.4M219.42 563.3v9.4M265.06 905.1v-9.4M265.06 563.3v9.4M82.95 862.37h9.4M310.85 862.37h-9.4M82.95 819.65h9.4M310.85 819.65h-9.4M82.95 776.92h9.4M310.85 776.92h-9.4M82.95 734.2h9.4M310.85 734.2h-9.4M82.95 691.47h9.4M310.85 691.47h-9.4M82.95 648.75h9.4M310.85 648.75h-9.4M82.95 606.02h9.4M310.85 606.02h-9.4" stroke="#000" stroke-width="1.6" fill="none"/>
<path d="M93.91 905.1v-4.9M93.91 563.3v4.9M105.32 905.1v-4.9M105.32 563.3v4.9M116.73 905.1v-4.9M116.73 563.3v4.9M139.55 905.1v-4.9M139.55 563.3v4.9M150.96 905.1v-4.9M150.96 563.3v4.9M162.37 905.1v-4.9M162.37 563.3v4.9M185.19 905.1v-4.9M185.19 563.3v4.9M196.6 905.1v-4.9M196.6 563.3v4.9M208.01 905.1v-4.9M208.01 563.3v4.9M230.83 905.1v-4.9M230.83 563.3v4.9M242.24 905.1v-4.9M242.24 563.3v4.9M253.65 905.1v-4.9M253.65 563.3v4.9M276.47 905.1v-4.9M276.47 563.3v4.9M287.88 905.1v-4.9M287.88 563.3v4.9M299.29 905.1v-4.9M299.29 563.3v4.9M82.95 883.74h4.9M310.85 883.74h-4.9M82.95 841.01h4.9M310.85 841.01h-4.9M82.95 798.29h4.9M310.85 798.29h-4.9M82.95 755.56h4.9M310.85 755.56h-4.9M82.95 712.84h4.9M310.85 712.84h-4.9M82.95 670.11h4.9M310.85 670.11h-4.9M82.95 627.39h4.9M310.85 627.39h-4.9M82.95 584.66h4.9M310.85 584.66h-4.9" stroke="#000" stroke-width="1.1" fill="none"/>
<text class="tk" x="128.24" y="930.8" text-anchor="middle">0.02</text>
<text class="tk" x="173.88" y="930.8" text-anchor="middle">0.04</text>
<text class="tk" x="219.52" y="930.8" text-anchor="middle">0.06</text>
<text class="tk" x="265.16" y="930.8" text-anchor="middle">0.08</text>
<text class="tk" x="70.75" y="869.37" text-anchor="end">10</text>
<text class="tk" x="70.75" y="826.65" text-anchor="end">20</text>
<text class="tk" x="70.75" y="783.92" text-anchor="end">30</text>
<text class="tk" x="70.75" y="741.2" text-anchor="end">40</text>
<text class="tk" x="70.75" y="698.47" text-anchor="end">50</text>
<text class="tk" x="70.75" y="655.75" text-anchor="end">60</text>
<text class="tk" x="70.75" y="613.02" text-anchor="end">70</text>
<text class="tk" x="70.75" y="570.3" text-anchor="end">80</text>
<text class="ti" x="155.75" y="968.9">-t, <tspan dx="-1">G</tspan><tspan dx="-0.4">e</tspan><tspan dx="-0.6">V</tspan><tspan dy="-14" dx="-0.3" font-size="17.5px">2</tspan></text>
<text class="ti" transform="translate(33.9 822.6) rotate(-90)">d<tspan class="gi">σ</tspan>/dydt <tspan class="gi" font-size="28px">μ</tspan>b <tspan dx="0.5">G</tspan><tspan dx="-1.5">e</tspan><tspan dx="-0.8">V</tspan><tspan dy="-13.4" dx="0.7" font-size="17.8px">-</tspan><tspan dx="-0.7" font-size="17.8px">2</tspan></text>
<polyline points="82.73,787.18 83.01,787.24 83.3,787.3 83.58,787.36 83.86,787.42 84.15,787.48 84.43,787.54 84.71,787.6 85,787.66 85.28,787.72 85.57,787.78 85.85,787.84 86.13,787.9 86.42,787.96 86.7,788.02 86.99,788.08 87.27,788.14 87.55,788.2 87.84,788.26 88.12,788.32 88.4,788.38 88.69,788.44 88.97,788.49 89.26,788.55 89.54,788.61 89.82,788.67 90.11,788.73 90.39,788.79 90.68,788.85 90.96,788.91 91.24,788.97 91.53,789.03 91.81,789.09 92.09,789.15 92.38,789.21 92.66,789.26 92.95,789.32 93.23,789.38 93.51,789.44 93.8,789.5 94.08,789.56 94.36,789.62 94.65,789.68 94.93,789.74 95.22,789.8 95.5,789.85 95.78,789.91 96.07,789.97 96.35,790.03 96.64,790.09 96.92,790.15 97.2,790.21 97.49,790.26 97.77,790.32 98.05,790.38 98.34,790.44 98.62,790.5 98.91,790.56 99.19,790.62 99.47,790.67 99.76,790.73 100.04,790.79 100.33,790.85 100.61,790.91 100.89,790.97 101.18,791.02 101.46,791.08 101.74,791.14 102.03,791.2 102.31,791.26 102.6,791.31 102.88,791.37 103.16,791.43 103.45,791.49 103.73,791.55 104.01,791.6 104.3,791.66 104.58,791.72 104.87,791.78 105.15,791.84 105.43,791.89 105.72,791.95 106,792.01 106.29,792.07 106.57,792.12 106.85,792.18 107.14,792.24 107.42,792.3 107.7,792.35 107.99,792.41 108.27,792.47 108.56,792.53 108.84,792.58 109.12,792.64 109.41,792.7 109.69,792.76 109.98,792.81 110.26,792.87 110.54,792.93 110.83,792.98 111.11,793.04 111.39,793.1 111.68,793.16 111.96,793.21 112.25,793.27 112.53,793.33 112.81,793.38 113.1,793.44 113.38,793.5 113.66,793.55 113.95,793.61 114.23,793.67 114.52,793.73 114.8,793.78 115.08,793.84 115.37,793.9 115.65,793.95 115.94,794.01 116.22,794.07 116.5,794.12 116.79,794.18 117.07,794.24 117.35,794.29 117.64,794.35 117.92,794.4 118.21,794.46 118.49,794.52 118.77,794.57 119.06,794.63 119.34,794.69 119.63,794.74 119.91,794.8 120.19,794.86 120.48,794.91 120.76,794.97 121.04,795.02 121.33,795.08 121.61,795.14 121.9,795.19 122.18,795.25 122.46,795.3 122.75,795.36 123.03,795.42 123.31,795.47 123.6,795.53 123.88,795.58 124.17,795.64 124.45,795.7 124.73,795.75 125.02,795.81 125.3,795.86 125.59,795.92 125.87,795.97 126.15,796.03 126.44,796.09 126.72,796.14 127,796.2 127.29,796.25 127.57,796.31 127.86,796.36 128.14,796.42 129.28,796.64 130.42,796.86 131.56,797.08 132.7,797.3 133.84,797.53 134.98,797.75 136.12,797.96 137.26,798.18 138.4,798.4 139.54,798.62 140.68,798.84 141.81,799.06 142.95,799.27 144.09,799.49 145.23,799.71 146.37,799.92 147.51,800.14 148.65,800.35 149.79,800.56 150.93,800.78 152.07,800.99 153.21,801.2 154.35,801.42 155.49,801.63 156.63,801.84 157.77,802.05 158.91,802.26 160.05,802.47 161.19,802.68 162.33,802.89 163.47,803.1 164.61,803.31 165.75,803.52 166.89,803.73 168.03,803.93 169.16,804.14 170.3,804.35 171.44,804.55 172.58,804.76 173.72,804.96 174.86,805.17 176,805.37 177.14,805.58 178.28,805.78 179.42,805.98 180.56,806.19 181.7,806.39 182.84,806.59 183.98,806.79 185.12,806.99 186.26,807.19 187.4,807.39 188.54,807.59 189.68,807.79 190.82,807.99 191.96,808.19 193.1,808.39 194.24,808.59 195.37,808.78 196.51,808.98 197.65,809.18 198.79,809.37 199.93,809.57 201.07,809.77 202.21,809.96 203.35,810.16 204.49,810.35 205.63,810.54 206.77,810.74 207.91,810.93 209.05,811.12 210.19,811.31 211.33,811.51 212.47,811.7 213.61,811.89 214.75,812.08 215.89,812.27 217.03,812.46 218.17,812.65 219.31,812.84 220.45,813.03 221.59,813.22 222.72,813.4 223.86,813.59 225,813.78 226.14,813.96 227.28,814.15 228.42,814.34 229.56,814.52 230.7,814.71 231.84,814.89 232.98,815.08 234.12,815.26 235.26,815.45 236.4,815.63 237.54,815.81 238.68,815.99 239.82,816.18 240.96,816.36 242.1,816.54 243.24,816.72 244.38,816.9 245.52,817.08 246.66,817.26 247.8,817.44 248.93,817.62 250.07,817.8 251.21,817.98 252.35,818.16 253.49,818.33 254.63,818.51 255.77,818.69 256.91,818.87 258.05,819.04 259.19,819.22 260.33,819.39 261.47,819.57 262.61,819.74 263.75,819.92 264.89,820.09 266.03,820.27 267.17,820.44 268.31,820.61 269.45,820.79 270.59,820.96 271.73,821.13 272.87,821.3 274.01,821.47 275.15,821.65 276.28,821.82 277.42,821.99 278.56,822.16 279.7,822.33 280.84,822.5 281.98,822.66 283.12,822.83 284.26,823 285.4,823.17 286.54,823.34 287.68,823.5 288.82,823.67 289.96,823.84 291.1,824 292.24,824.17 293.38,824.33 294.52,824.5 295.66,824.66 296.8,824.83 297.94,824.99 299.08,825.16 300.22,825.32 301.36,825.48 302.49,825.65 303.63,825.81 304.77,825.97 305.91,826.13 307.05,826.29 308.19,826.46 309.33,826.62 310.47,826.78" fill="none" stroke="#0000ff" stroke-width="3.6" stroke-dasharray="1.7 2.4 10.4 2.3"/>
<polyline points="82.73,737.62 83.01,743.05 83.3,748.32 83.58,753.44 83.86,758.4 84.15,763.22 84.43,767.9 84.71,772.44 85,776.84 85.28,781.11 85.57,785.26 85.85,789.28 86.13,793.17 86.42,796.96 86.7,800.62 86.99,804.18 87.27,807.63 87.55,810.97 87.84,814.21 88.12,817.35 88.4,820.39 88.69,823.34 88.97,826.2 89.26,828.97 89.54,831.66 89.82,834.26 90.11,836.78 90.39,839.22 90.68,841.58 90.96,843.87 91.24,846.09 91.53,848.23 91.81,850.31 92.09,852.32 92.38,854.26 92.66,856.15 92.95,857.97 93.23,859.73 93.51,861.44 93.8,863.09 94.08,864.68 94.36,866.22 94.65,867.72 94.93,869.16 95.22,870.55 95.5,871.9 95.78,873.2 96.07,874.46 96.35,875.67 96.64,876.85 96.92,877.98 97.2,879.07 97.49,880.13 97.77,881.15 98.05,882.14 98.34,883.09 98.62,884 98.91,884.89 99.19,885.74 99.47,886.56 99.76,887.35 100.04,888.12 100.33,888.85 100.61,889.56 100.89,890.25 101.18,890.91 101.46,891.54 101.74,892.15 102.03,892.74 102.31,893.3 102.6,893.85 102.88,894.37 103.16,894.87 103.45,895.36 103.73,895.82 104.01,896.27 104.3,896.7 104.58,897.11 104.87,897.51 105.15,897.89 105.43,898.25 105.72,898.6 106,898.93 106.29,899.26 106.57,899.56 106.85,899.86 107.14,900.14 107.42,900.41 107.7,900.67 107.99,900.92 108.27,901.15 108.56,901.38 108.84,901.59 109.12,901.8 109.41,902 109.69,902.18 109.98,902.36 110.26,902.53 110.54,902.69 110.83,902.85 111.11,903 111.39,903.13 111.68,903.27 111.96,903.39 112.25,903.51 112.53,903.62 112.81,903.73 113.1,903.83 113.38,903.93 113.66,904.02 113.95,904.1 114.23,904.19 114.52,904.26 114.8,904.33 115.08,904.4 115.37,904.46 115.65,904.52 115.94,904.58 116.22,904.63 116.5,904.67 116.79,904.72 117.07,904.76 117.35,904.8 117.64,904.83 117.92,904.87 118.21,904.9 118.49,904.92 118.77,904.95 119.06,904.97 119.34,904.99 119.63,905.01 119.91,905.03 120.19,905.04 120.48,905.05 120.76,905.06 121.04,905.07 121.33,905.08 121.61,905.09 121.9,905.09 122.18,905.1 122.46,905.1 122.75,905.1 123.03,905.1 123.31,905.1 123.6,905.1 123.88,905.09 124.17,905.08 124.45,905.08 124.73,905.07 125.02,905.06 125.3,905.04 125.59,905.03 125.87,905.02 126.15,905 126.44,904.99 126.72,904.97 127,904.95 127.29,904.94 127.57,904.92 127.86,904.9 128.14,904.88 129.28,904.8 130.42,904.72 131.56,904.63 132.7,904.55 133.84,904.47 134.98,904.4 136.12,904.34 137.26,904.28 138.4,904.22 139.54,904.18 140.68,904.14 141.81,904.11 142.95,904.09 144.09,904.07 145.23,904.06 146.37,904.06 147.51,904.06 148.65,904.07 149.79,904.08 150.93,904.1 152.07,904.12 153.21,904.15 154.35,904.18 155.49,904.21 156.63,904.24 157.77,904.27 158.91,904.31 160.05,904.35 161.19,904.39 162.33,904.43 163.47,904.46 164.61,904.5 165.75,904.54 166.89,904.58 168.03,904.62 169.16,904.65 170.3,904.69 171.44,904.72 172.58,904.75 173.72,904.78 174.86,904.81 176,904.84 177.14,904.87 178.28,904.89 179.42,904.91 180.56,904.94 181.7,904.96 182.84,904.97 183.98,904.99 185.12,905.01 186.26,905.02 187.4,905.03 188.54,905.05 189.68,905.06 190.82,905.06 191.96,905.07 193.1,905.08 194.24,905.08 195.37,905.09 196.51,905.09 197.65,905.1 198.79,905.1 199.93,905.1 201.07,905.1 202.21,905.1 203.35,905.1 204.49,905.1 205.63,905.1 206.77,905.09 207.91,905.09 209.05,905.09 210.19,905.09 211.33,905.08 212.47,905.08 213.61,905.08 214.75,905.07 215.89,905.07 217.03,905.07 218.17,905.06 219.31,905.06 220.45,905.06 221.59,905.05 222.72,905.05 223.86,905.05 225,905.05 226.14,905.04 227.28,905.04 228.42,905.04 229.56,905.03 230.7,905.03 231.84,905.03 232.98,905.03 234.12,905.03 235.26,905.03 236.4,905.02 237.54,905.02 238.68,905.02 239.82,905.02 240.96,905.02 242.1,905.02 243.24,905.02 244.38,905.02 245.52,905.02 246.66,905.02 247.8,905.02 248.93,905.02 250.07,905.02 251.21,905.03 252.35,905.03 253.49,905.03 254.63,905.03 255.77,905.03 256.91,905.03 258.05,905.03 259.19,905.04 260.33,905.04 261.47,905.04 262.61,905.04 263.75,905.04 264.89,905.04 266.03,905.05 267.17,905.05 268.31,905.05 269.45,905.05 270.59,905.05 271.73,905.06 272.87,905.06 274.01,905.06 275.15,905.06 276.28,905.06 277.42,905.07 278.56,905.07 279.7,905.07 280.84,905.07 281.98,905.07 283.12,905.07 284.26,905.08 285.4,905.08 286.54,905.08 287.68,905.08 288.82,905.08 289.96,905.08 291.1,905.09 292.24,905.09 293.38,905.09 294.52,905.09 295.66,905.09 296.8,905.09 297.5,905.09" fill="none" stroke="#ff00ff" stroke-width="3.4" stroke-dasharray="12.09 2.3"/>
<polyline points="82.73,619.7 83.01,625.19 83.3,630.52 83.58,635.7 83.86,640.72 84.15,645.6 84.43,650.34 84.71,654.94 85,659.4 85.28,663.73 85.57,667.93 85.85,672.01 86.13,675.97 86.42,679.81 86.7,683.54 86.99,687.16 87.27,690.66 87.55,694.06 87.84,697.36 88.12,700.57 88.4,703.67 88.69,706.68 88.97,709.6 89.26,712.43 89.54,715.17 89.82,717.83 90.11,720.41 90.39,722.91 90.68,725.33 90.96,727.68 91.24,729.96 91.53,732.16 91.81,734.3 92.09,736.37 92.38,738.37 92.66,740.31 92.95,742.19 93.23,744.01 93.51,745.78 93.8,747.49 94.08,749.14 94.36,750.74 94.65,752.29 94.93,753.79 95.22,755.25 95.5,756.65 95.78,758.01 96.07,759.33 96.35,760.6 96.64,761.84 96.92,763.03 97.2,764.18 97.49,765.3 97.77,766.37 98.05,767.42 98.34,768.43 98.62,769.4 98.91,770.34 99.19,771.25 99.47,772.13 99.76,772.99 100.04,773.81 100.33,774.6 100.61,775.37 100.89,776.11 101.18,776.83 101.46,777.52 101.74,778.19 102.03,778.84 102.31,779.46 102.6,780.06 102.88,780.64 103.16,781.2 103.45,781.75 103.73,782.27 104.01,782.77 104.3,783.26 104.58,783.73 104.87,784.18 105.15,784.62 105.43,785.04 105.72,785.45 106,785.84 106.29,786.22 106.57,786.59 106.85,786.94 107.14,787.28 107.42,787.61 107.7,787.92 107.99,788.23 108.27,788.52 108.56,788.8 108.84,789.08 109.12,789.34 109.41,789.59 109.69,789.84 109.98,790.07 110.26,790.3 110.54,790.52 110.83,790.73 111.11,790.94 111.39,791.13 111.68,791.32 111.96,791.51 112.25,791.68 112.53,791.85 112.81,792.02 113.1,792.17 113.38,792.33 113.66,792.47 113.95,792.62 114.23,792.75 114.52,792.89 114.8,793.01 115.08,793.14 115.37,793.26 115.65,793.37 115.94,793.48 116.22,793.59 116.5,793.7 116.79,793.8 117.07,793.9 117.35,793.99 117.64,794.08 117.92,794.17 118.21,794.26 118.49,794.34 118.77,794.42 119.06,794.5 119.34,794.58 119.63,794.65 119.91,794.72 120.19,794.8 120.48,794.86 120.76,794.93 121.04,795 121.33,795.06 121.61,795.12 121.9,795.18 122.18,795.24 122.46,795.3 122.75,795.36 123.03,795.42 123.31,795.47 123.6,795.52 123.88,795.57 124.17,795.62 124.45,795.67 124.73,795.72 125.02,795.76 125.3,795.81 125.59,795.85 125.87,795.89 126.15,795.93 126.44,795.97 126.72,796.01 127,796.05 127.29,796.09 127.57,796.13 127.86,796.16 128.14,796.2 129.28,796.34 130.42,796.48 131.56,796.62 132.7,796.76 133.84,796.9 134.98,797.05 136.12,797.2 137.26,797.36 138.4,797.53 139.54,797.7 140.68,797.88 141.81,798.07 142.95,798.26 144.09,798.46 145.23,798.67 146.37,798.88 147.51,799.1 148.65,799.32 149.79,799.55 150.93,799.78 152.07,800.01 153.21,800.25 154.35,800.49 155.49,800.74 156.63,800.98 157.77,801.23 158.91,801.47 160.05,801.72 161.19,801.97 162.33,802.22 163.47,802.47 164.61,802.71 165.75,802.96 166.89,803.2 168.03,803.45 169.16,803.69 170.3,803.93 171.44,804.17 172.58,804.41 173.72,804.65 174.86,804.88 176,805.11 177.14,805.34 178.28,805.57 179.42,805.8 180.56,806.02 181.7,806.25 182.84,806.47 183.98,806.68 185.12,806.9 186.26,807.12 187.4,807.33 188.54,807.54 189.68,807.75 190.82,807.96 191.96,808.16 193.1,808.37 194.24,808.57 195.37,808.77 196.51,808.97 197.65,809.17 198.79,809.37 199.93,809.57 201.07,809.77 202.21,809.96 203.35,810.15 204.49,810.35 205.63,810.54 206.77,810.73 207.91,810.92 209.05,811.11 210.19,811.3 211.33,811.49 212.47,811.68 213.61,811.87 214.75,812.05 215.89,812.24 217.03,812.43 218.17,812.61 219.31,812.8 220.45,812.98 221.59,813.17 222.72,813.35 223.86,813.54 225,813.72 226.14,813.91 227.28,814.09 228.42,814.27 229.56,814.46 230.7,814.64 231.84,814.82 232.98,815.01 234.12,815.19 235.26,815.37 236.4,815.55 237.54,815.74 238.68,815.92 239.82,816.1 240.96,816.28 242.1,816.46 243.24,816.64 244.38,816.82 245.52,817 246.66,817.18 247.8,817.36 248.93,817.54 250.07,817.72 251.21,817.9 252.35,818.08 253.49,818.26 254.63,818.44 255.77,818.62 256.91,818.8 258.05,818.98 259.19,819.15 260.33,819.33 261.47,819.51 262.61,819.68 263.75,819.86 264.89,820.04 266.03,820.21 267.17,820.39 268.31,820.56 269.45,820.74 270.59,820.91 271.73,821.09 272.87,821.26 274.01,821.43 275.15,821.61 276.28,821.78 277.42,821.95 278.56,822.12 279.7,822.3 280.84,822.47 281.98,822.64 283.12,822.81 284.26,822.98 285.4,823.15 286.54,823.32 287.68,823.48 288.82,823.65 289.96,823.82 291.1,823.99 292.24,824.16 293.38,824.32 294.52,824.49 295.66,824.65 296.8,824.82 297.94,824.99 299.08,825.15 300.22,825.31 301.36,825.48 302.49,825.64 303.63,825.81 304.77,825.97 305.91,826.13 307.05,826.29 308.19,826.45 309.33,826.62 310.47,826.78" fill="none" stroke="#ff0000" stroke-width="3.8" stroke-linejoin="round"/>
<line x1="113.75" y1="603.8" x2="143.75" y2="603.8" stroke="#ff00ff" stroke-width="3.7" stroke-dasharray="12.2 2.2"/>
<line x1="113.75" y1="623.3" x2="143.75" y2="623.3" stroke="#0000ff" stroke-width="3.7" stroke-dasharray="1.4 2.4 10.7 2.3"/>
<text class="lg" transform="translate(150.75 590) scale(1 0.95)">y=-3 </text>
<text class="lg" transform="translate(185.1 590) scale(1 0.95)">Pb+p</text>
<path d="M220.02 586.2H235.02M230.42 583.5Q232.42 585.6 235.02 586.2Q232.42 586.8 230.42 588.9" fill="none" stroke="#000" stroke-width="0.9"/>
<text class="lg" transform="translate(235.62 590) scale(1 0.95)">Pb+p+J/</text>
<text class="lg gi" transform="translate(290.04 590) scale(1 0.95)">ψ</text>
<text class="lg" transform="translate(150.75 609.7) scale(1 0.95)">high energy </text>
<g transform="translate(231.74 609.7)" fill="none" stroke="#000" stroke-linecap="round"><path d="M0.2,-4C0.6,-5.8 1.4,-6.9 2.6,-6.9C4.6,-6.9 5.7,-3.5 5.4,-0.5L4.9,3" stroke-width="1.05"/><path d="M8.3,-6.9C7.6,-4.5 6.5,-2.3 5.4,-0.5" stroke-width="0.8"/></g>
<text class="lg" transform="translate(240.24 609.7) scale(1 0.95)">A</text>
<path d="M256.99 605.9H271.99M267.39 603.2Q269.39 605.3 271.99 605.9Q269.39 606.5 267.39 608.6" fill="none" stroke="#000" stroke-width="0.9"/>
<text class="lg" transform="translate(272.49 609.7) scale(1 0.95)">AJ/</text>
<text class="lg gi" transform="translate(295.42 609.7) scale(1 0.95)">ψ</text>
<text class="lg" transform="translate(150.75 629.5) scale(1 0.95)">low energy </text>
<g transform="translate(227.29 629.5)" fill="none" stroke="#000" stroke-linecap="round"><path d="M0.2,-4C0.6,-5.8 1.4,-6.9 2.6,-6.9C4.6,-6.9 5.7,-3.5 5.4,-0.5L4.9,3" stroke-width="1.05"/><path d="M8.3,-6.9C7.6,-4.5 6.5,-2.3 5.4,-0.5" stroke-width="0.8"/></g>
<text class="lg" transform="translate(235.79 629.5) scale(1 0.95)">p</text>
<path d="M248.09 625.7H263.09M258.49 623Q260.49 625.1 263.09 625.7Q260.49 626.3 258.49 628.4" fill="none" stroke="#000" stroke-width="0.9"/>
<text class="lg" transform="translate(263.59 629.5) scale(1 0.95)">pJ/</text>
<text class="lg gi" transform="translate(282.96 629.5) scale(1 0.95)">ψ</text>
</g>
<g>
<rect x="376.2" y="563.3" width="227.9" height="341.8" fill="none" stroke="#000" stroke-width="1.95"/>
<path d="M421.39 905.1v-9.4M421.39 563.3v9.4M467.03 905.1v-9.4M467.03 563.3v9.4M512.67 905.1v-9.4M512.67 563.3v9.4M558.31 905.1v-9.4M558.31 563.3v9.4M376.2 870.92h9.4M604.1 870.92h-9.4M376.2 836.74h9.4M604.1 836.74h-9.4M376.2 802.56h9.4M604.1 802.56h-9.4M376.2 768.38h9.4M604.1 768.38h-9.4M376.2 734.2h9.4M604.1 734.2h-9.4M376.2 700.02h9.4M604.1 700.02h-9.4M376.2 665.84h9.4M604.1 665.84h-9.4M376.2 631.66h9.4M604.1 631.66h-9.4M376.2 597.48h9.4M604.1 597.48h-9.4" stroke="#000" stroke-width="1.6" fill="none"/>
<path d="M387.16 905.1v-4.9M387.16 563.3v4.9M398.57 905.1v-4.9M398.57 563.3v4.9M409.98 905.1v-4.9M409.98 563.3v4.9M432.8 905.1v-4.9M432.8 563.3v4.9M444.21 905.1v-4.9M444.21 563.3v4.9M455.62 905.1v-4.9M455.62 563.3v4.9M478.44 905.1v-4.9M478.44 563.3v4.9M489.85 905.1v-4.9M489.85 563.3v4.9M501.26 905.1v-4.9M501.26 563.3v4.9M524.08 905.1v-4.9M524.08 563.3v4.9M535.49 905.1v-4.9M535.49 563.3v4.9M546.9 905.1v-4.9M546.9 563.3v4.9M569.72 905.1v-4.9M569.72 563.3v4.9M581.13 905.1v-4.9M581.13 563.3v4.9M592.54 905.1v-4.9M592.54 563.3v4.9M376.2 888.01h4.9M604.1 888.01h-4.9M376.2 853.83h4.9M604.1 853.83h-4.9M376.2 819.65h4.9M604.1 819.65h-4.9M376.2 785.47h4.9M604.1 785.47h-4.9M376.2 751.29h4.9M604.1 751.29h-4.9M376.2 717.11h4.9M604.1 717.11h-4.9M376.2 682.93h4.9M604.1 682.93h-4.9M376.2 648.75h4.9M604.1 648.75h-4.9M376.2 614.57h4.9M604.1 614.57h-4.9M376.2 580.39h4.9M604.1 580.39h-4.9" stroke="#000" stroke-width="1.1" fill="none"/>
<text class="tk" x="421.49" y="930.8" text-anchor="middle">0.02</text>
<text class="tk" x="467.13" y="930.8" text-anchor="middle">0.04</text>
<text class="tk" x="512.77" y="930.8" text-anchor="middle">0.06</text>
<text class="tk" x="558.41" y="930.8" text-anchor="middle">0.08</text>
<text class="tk" x="364" y="877.92" text-anchor="end">10</text>
<text class="tk" x="364" y="843.74" text-anchor="end">20</text>
<text class="tk" x="364" y="809.56" text-anchor="end">30</text>
<text class="tk" x="364" y="775.38" text-anchor="end">40</text>
<text class="tk" x="364" y="741.2" text-anchor="end">50</text>
<text class="tk" x="364" y="707.02" text-anchor="end">60</text>
<text class="tk" x="364" y="672.84" text-anchor="end">70</text>
<text class="tk" x="364" y="638.66" text-anchor="end">80</text>
<text class="tk" x="364" y="604.48" text-anchor="end">90</text>
<text class="tk" x="364" y="570.3" text-anchor="end">100</text>
<text class="ti" x="449" y="968.9">-t, <tspan dx="-1">G</tspan><tspan dx="-0.4">e</tspan><tspan dx="-0.6">V</tspan><tspan dy="-14" dx="-0.3" font-size="17.5px">2</tspan></text>
<polyline points="375.98,834.79 376.26,834.84 376.55,834.88 376.83,834.92 377.11,834.97 377.4,835.01 377.68,835.05 377.96,835.1 378.25,835.14 378.53,835.19 378.82,835.23 379.1,835.27 379.38,835.32 379.67,835.36 379.95,835.4 380.24,835.45 380.52,835.49 380.8,835.53 381.09,835.58 381.37,835.62 381.65,835.66 381.94,835.71 382.22,835.75 382.51,835.79 382.79,835.84 383.07,835.88 383.36,835.92 383.64,835.97 383.93,836.01 384.21,836.05 384.49,836.1 384.78,836.14 385.06,836.18 385.34,836.23 385.63,836.27 385.91,836.31 386.2,836.35 386.48,836.4 386.76,836.44 387.05,836.48 387.33,836.53 387.61,836.57 387.9,836.61 388.18,836.65 388.47,836.7 388.75,836.74 389.03,836.78 389.32,836.82 389.6,836.87 389.89,836.91 390.17,836.95 390.45,837 390.74,837.04 391.02,837.08 391.3,837.12 391.59,837.17 391.87,837.21 392.16,837.25 392.44,837.29 392.72,837.33 393.01,837.38 393.29,837.42 393.58,837.46 393.86,837.5 394.14,837.55 394.43,837.59 394.71,837.63 394.99,837.67 395.28,837.71 395.56,837.76 395.85,837.8 396.13,837.84 396.41,837.88 396.7,837.92 396.98,837.97 397.26,838.01 397.55,838.05 397.83,838.09 398.12,838.13 398.4,838.18 398.68,838.22 398.97,838.26 399.25,838.3 399.54,838.34 399.82,838.38 400.1,838.43 400.39,838.47 400.67,838.51 400.95,838.55 401.24,838.59 401.52,838.63 401.81,838.68 402.09,838.72 402.37,838.76 402.66,838.8 402.94,838.84 403.23,838.88 403.51,838.92 403.79,838.96 404.08,839.01 404.36,839.05 404.64,839.09 404.93,839.13 405.21,839.17 405.5,839.21 405.78,839.25 406.06,839.29 406.35,839.34 406.63,839.38 406.91,839.42 407.2,839.46 407.48,839.5 407.77,839.54 408.05,839.58 408.33,839.62 408.62,839.66 408.9,839.7 409.19,839.74 409.47,839.79 409.75,839.83 410.04,839.87 410.32,839.91 410.6,839.95 410.89,839.99 411.17,840.03 411.46,840.07 411.74,840.11 412.02,840.15 412.31,840.19 412.59,840.23 412.88,840.27 413.16,840.31 413.44,840.35 413.73,840.39 414.01,840.43 414.29,840.48 414.58,840.52 414.86,840.56 415.15,840.6 415.43,840.64 415.71,840.68 416,840.72 416.28,840.76 416.56,840.8 416.85,840.84 417.13,840.88 417.42,840.92 417.7,840.96 417.98,841 418.27,841.04 418.55,841.08 418.84,841.12 419.12,841.16 419.4,841.2 419.69,841.24 419.97,841.28 420.25,841.32 420.54,841.36 420.82,841.4 421.11,841.44 421.39,841.48 422.53,841.64 423.67,841.79 424.81,841.95 425.95,842.11 427.09,842.27 428.23,842.43 429.37,842.58 430.51,842.74 431.65,842.9 432.79,843.05 433.93,843.21 435.06,843.36 436.2,843.52 437.34,843.67 438.48,843.82 439.62,843.98 440.76,844.13 441.9,844.28 443.04,844.44 444.18,844.59 445.32,844.74 446.46,844.89 447.6,845.04 448.74,845.19 449.88,845.34 451.02,845.49 452.16,845.64 453.3,845.79 454.44,845.94 455.58,846.09 456.72,846.23 457.86,846.38 459,846.53 460.14,846.67 461.28,846.82 462.41,846.97 463.55,847.11 464.69,847.26 465.83,847.4 466.97,847.55 468.11,847.69 469.25,847.83 470.39,847.98 471.53,848.12 472.67,848.26 473.81,848.41 474.95,848.55 476.09,848.69 477.23,848.83 478.37,848.97 479.51,849.11 480.65,849.25 481.79,849.39 482.93,849.53 484.07,849.67 485.21,849.81 486.35,849.95 487.49,850.09 488.62,850.22 489.76,850.36 490.9,850.5 492.04,850.63 493.18,850.77 494.32,850.91 495.46,851.04 496.6,851.18 497.74,851.31 498.88,851.45 500.02,851.58 501.16,851.72 502.3,851.85 503.44,851.98 504.58,852.12 505.72,852.25 506.86,852.38 508,852.51 509.14,852.64 510.28,852.78 511.42,852.91 512.56,853.04 513.7,853.17 514.84,853.3 515.97,853.43 517.11,853.56 518.25,853.69 519.39,853.81 520.53,853.94 521.67,854.07 522.81,854.2 523.95,854.33 525.09,854.45 526.23,854.58 527.37,854.71 528.51,854.83 529.65,854.96 530.79,855.08 531.93,855.21 533.07,855.33 534.21,855.46 535.35,855.58 536.49,855.71 537.63,855.83 538.77,855.95 539.91,856.08 541.05,856.2 542.18,856.32 543.32,856.44 544.46,856.57 545.6,856.69 546.74,856.81 547.88,856.93 549.02,857.05 550.16,857.17 551.3,857.29 552.44,857.41 553.58,857.53 554.72,857.65 555.86,857.77 557,857.89 558.14,858 559.28,858.12 560.42,858.24 561.56,858.36 562.7,858.47 563.84,858.59 564.98,858.71 566.12,858.82 567.26,858.94 568.4,859.06 569.53,859.17 570.67,859.29 571.81,859.4 572.95,859.52 574.09,859.63 575.23,859.74 576.37,859.86 577.51,859.97 578.65,860.08 579.79,860.2 580.93,860.31 582.07,860.42 583.21,860.53 584.35,860.64 585.49,860.75 586.63,860.87 587.77,860.98 588.91,861.09 590.05,861.2 591.19,861.31 592.33,861.42 593.47,861.53 594.61,861.64 595.74,861.74 596.88,861.85 598.02,861.96 599.16,862.07 600.3,862.18 601.44,862.28 602.58,862.39 603.72,862.5" fill="none" stroke="#0000ff" stroke-width="3.6" stroke-dasharray="1.7 2.4 10.4 2.3"/>
<polyline points="375.98,631.66 376.26,640.53 376.55,649.13 376.83,657.49 377.11,665.6 377.4,673.46 377.68,681.1 377.96,688.51 378.25,695.7 378.53,702.67 378.82,709.44 379.1,716 379.38,722.36 379.67,728.54 379.95,734.52 380.24,740.33 380.52,745.96 380.8,751.41 381.09,756.71 381.37,761.83 381.65,766.8 381.94,771.62 382.22,776.29 382.51,780.81 382.79,785.2 383.07,789.44 383.36,793.55 383.64,797.54 383.93,801.4 384.21,805.13 384.49,808.75 384.78,812.25 385.06,815.64 385.34,818.93 385.63,822.1 385.91,825.18 386.2,828.15 386.48,831.03 386.76,833.81 387.05,836.51 387.33,839.11 387.61,841.63 387.9,844.06 388.18,846.42 388.47,848.69 388.75,850.89 389.03,853.02 389.32,855.07 389.6,857.05 389.89,858.97 390.17,860.82 390.45,862.61 390.74,864.33 391.02,866 391.3,867.61 391.59,869.16 391.87,870.65 392.16,872.1 392.44,873.49 392.72,874.83 393.01,876.13 393.29,877.37 393.58,878.58 393.86,879.74 394.14,880.85 394.43,881.93 394.71,882.96 394.99,883.96 395.28,884.92 395.56,885.84 395.85,886.73 396.13,887.58 396.41,888.4 396.7,889.19 396.98,889.95 397.26,890.68 397.55,891.38 397.83,892.06 398.12,892.7 398.4,893.32 398.68,893.92 398.97,894.49 399.25,895.03 399.54,895.56 399.82,896.06 400.1,896.54 400.39,897 400.67,897.44 400.95,897.87 401.24,898.27 401.52,898.65 401.81,899.02 402.09,899.38 402.37,899.71 402.66,900.03 402.94,900.34 403.23,900.63 403.51,900.91 403.79,901.17 404.08,901.42 404.36,901.66 404.64,901.89 404.93,902.11 405.21,902.31 405.5,902.51 405.78,902.69 406.06,902.87 406.35,903.03 406.63,903.19 406.91,903.34 407.2,903.47 407.48,903.61 407.77,903.73 408.05,903.85 408.33,903.96 408.62,904.06 408.9,904.15 409.19,904.24 409.47,904.33 409.75,904.41 410.04,904.48 410.32,904.54 410.6,904.61 410.89,904.66 411.17,904.72 411.46,904.77 411.74,904.81 412.02,904.85 412.31,904.89 412.59,904.92 412.88,904.95 413.16,904.98 413.44,905 413.73,905.02 414.01,905.04 414.29,905.06 414.58,905.07 414.86,905.08 415.15,905.09 415.43,905.09 415.71,905.1 416,905.1 416.28,905.1 416.56,905.1 416.85,905.09 417.13,905.08 417.42,905.07 417.7,905.06 417.98,905.05 418.27,905.03 418.55,905.01 418.84,904.99 419.12,904.97 419.4,904.94 419.69,904.92 419.97,904.89 420.25,904.86 420.54,904.83 420.82,904.8 421.11,904.77 421.39,904.74 422.53,904.61 423.67,904.47 424.81,904.34 425.95,904.21 427.09,904.08 428.23,903.96 429.37,903.85 430.51,903.75 431.65,903.67 432.79,903.59 433.93,903.53 435.06,903.48 436.2,903.45 437.34,903.42 438.48,903.4 439.62,903.4 440.76,903.4 441.9,903.42 443.04,903.44 444.18,903.47 445.32,903.5 446.46,903.54 447.6,903.59 448.74,903.64 449.88,903.7 451.02,903.75 452.16,903.81 453.3,903.87 454.44,903.94 455.58,904 456.72,904.06 457.86,904.12 459,904.19 460.14,904.25 461.28,904.31 462.41,904.37 463.55,904.42 464.69,904.48 465.83,904.53 466.97,904.58 468.11,904.63 469.25,904.68 470.39,904.72 471.53,904.76 472.67,904.8 473.81,904.83 474.95,904.87 476.09,904.9 477.23,904.92 478.37,904.95 479.51,904.97 480.65,904.99 481.79,905.01 482.93,905.03 484.07,905.04 485.21,905.06 486.35,905.07 487.49,905.08 488.62,905.08 489.76,905.09 490.9,905.09 492.04,905.1 493.18,905.1 494.32,905.1 495.46,905.1 496.6,905.1 497.74,905.1 498.88,905.09 500.02,905.09 501.16,905.09 502.3,905.08 503.44,905.08 504.58,905.07 505.72,905.07 506.86,905.06 508,905.06 509.14,905.05 510.28,905.05 511.42,905.04 512.56,905.04 513.7,905.03 514.84,905.03 515.97,905.02 517.11,905.02 518.25,905.01 519.39,905.01 520.53,905 521.67,905 522.81,904.99 523.95,904.99 525.09,904.99 526.23,904.98 527.37,904.98 528.51,904.98 529.65,904.98 530.79,904.98 531.93,904.97 533.07,904.97 534.21,904.97 535.35,904.97 536.49,904.97 537.63,904.97 538.77,904.97 539.91,904.97 541.05,904.97 542.18,904.98 543.32,904.98 544.46,904.98 545.6,904.98 546.74,904.98 547.88,904.98 549.02,904.99 550.16,904.99 551.3,904.99 552.44,904.99 553.58,905 554.72,905 555.86,905 557,905.01 558.14,905.01 559.28,905.01 560.42,905.02 561.56,905.02 562.7,905.02 563.84,905.02 564.98,905.03 566.12,905.03 567.26,905.03 568.4,905.04 569.53,905.04 570.67,905.04 571.81,905.05 572.95,905.05 574.09,905.05 575.23,905.06 576.37,905.06 577.51,905.06 578.65,905.06 579.79,905.07 580.93,905.07 582.07,905.07 583.21,905.07 584.35,905.08 585.49,905.08 586.63,905.08 587.77,905.08 588.91,905.08 590.05,905.09 590.75,905.09" fill="none" stroke="#ff00ff" stroke-width="3.4" stroke-dasharray="12.18 2.3"/>
<polyline points="375.98,563.3 376.26,570.26 376.55,578.91 376.83,587.31 377.11,595.46 377.4,603.37 377.68,611.05 377.96,618.51 378.25,625.74 378.53,632.76 378.82,639.57 379.1,646.17 379.38,652.58 379.67,658.8 379.95,664.83 380.24,670.68 380.52,676.35 380.8,681.85 381.09,687.18 381.37,692.35 381.65,697.37 381.94,702.23 382.22,706.94 382.51,711.51 382.79,715.93 383.07,720.22 383.36,724.38 383.64,728.41 383.93,732.31 384.21,736.09 384.49,739.75 384.78,743.29 385.06,746.73 385.34,750.05 385.63,753.27 385.91,756.39 386.2,759.41 386.48,762.33 386.76,765.15 387.05,767.89 387.33,770.54 387.61,773.1 387.9,775.58 388.18,777.97 388.47,780.29 388.75,782.53 389.03,784.7 389.32,786.8 389.6,788.82 389.89,790.78 390.17,792.67 390.45,794.5 390.74,796.27 391.02,797.98 391.3,799.63 391.59,801.22 391.87,802.76 392.16,804.25 392.44,805.68 392.72,807.07 393.01,808.4 393.29,809.69 393.58,810.94 393.86,812.14 394.14,813.3 394.43,814.41 394.71,815.49 394.99,816.53 395.28,817.53 395.56,818.5 395.85,819.43 396.13,820.32 396.41,821.19 396.7,822.02 396.98,822.82 397.26,823.59 397.55,824.33 397.83,825.05 398.12,825.74 398.4,826.4 398.68,827.03 398.97,827.65 399.25,828.23 399.54,828.8 399.82,829.34 400.1,829.87 400.39,830.37 400.67,830.85 400.95,831.32 401.24,831.76 401.52,832.19 401.81,832.6 402.09,832.99 402.37,833.37 402.66,833.73 402.94,834.08 403.23,834.41 403.51,834.73 403.79,835.04 404.08,835.33 404.36,835.61 404.64,835.88 404.93,836.14 405.21,836.38 405.5,836.62 405.78,836.84 406.06,837.06 406.35,837.27 406.63,837.46 406.91,837.65 407.2,837.83 407.48,838.01 407.77,838.17 408.05,838.33 408.33,838.48 408.62,838.62 408.9,838.76 409.19,838.89 409.47,839.01 409.75,839.13 410.04,839.24 410.32,839.35 410.6,839.46 410.89,839.55 411.17,839.65 411.46,839.74 411.74,839.82 412.02,839.9 412.31,839.98 412.59,840.05 412.88,840.13 413.16,840.19 413.44,840.26 413.73,840.32 414.01,840.38 414.29,840.43 414.58,840.48 414.86,840.53 415.15,840.58 415.43,840.63 415.71,840.67 416,840.72 416.28,840.76 416.56,840.79 416.85,840.83 417.13,840.86 417.42,840.89 417.7,840.92 417.98,840.94 418.27,840.97 418.55,840.99 418.84,841.01 419.12,841.02 419.4,841.04 419.69,841.05 419.97,841.07 420.25,841.08 420.54,841.09 420.82,841.1 421.11,841.11 421.39,841.12 422.53,841.15 423.67,841.17 424.81,841.19 425.95,841.22 427.09,841.25 428.23,841.29 429.37,841.33 430.51,841.39 431.65,841.46 432.79,841.54 433.93,841.64 435.06,841.74 436.2,841.86 437.34,841.99 438.48,842.13 439.62,842.28 440.76,842.43 441.9,842.6 443.04,842.77 444.18,842.96 445.32,843.14 446.46,843.33 447.6,843.53 448.74,843.73 449.88,843.94 451.02,844.14 452.16,844.35 453.3,844.56 454.44,844.77 455.58,844.98 456.72,845.19 457.86,845.41 459,845.61 460.14,845.82 461.28,846.03 462.41,846.23 463.55,846.44 464.69,846.64 465.83,846.83 466.97,847.03 468.11,847.22 469.25,847.41 470.39,847.6 471.53,847.78 472.67,847.96 473.81,848.14 474.95,848.31 476.09,848.48 477.23,848.65 478.37,848.82 479.51,848.98 480.65,849.14 481.79,849.3 482.93,849.46 484.07,849.61 485.21,849.76 486.35,849.91 487.49,850.06 488.62,850.21 489.76,850.35 490.9,850.49 492.04,850.63 493.18,850.77 494.32,850.91 495.46,851.04 496.6,851.18 497.74,851.31 498.88,851.44 500.02,851.57 501.16,851.7 502.3,851.83 503.44,851.96 504.58,852.09 505.72,852.22 506.86,852.35 508,852.47 509.14,852.6 510.28,852.72 511.42,852.85 512.56,852.97 513.7,853.1 514.84,853.22 515.97,853.35 517.11,853.47 518.25,853.6 519.39,853.72 520.53,853.84 521.67,853.97 522.81,854.09 523.95,854.22 525.09,854.34 526.23,854.46 527.37,854.59 528.51,854.71 529.65,854.84 530.79,854.96 531.93,855.08 533.07,855.21 534.21,855.33 535.35,855.46 536.49,855.58 537.63,855.7 538.77,855.83 539.91,855.95 541.05,856.07 542.18,856.2 543.32,856.32 544.46,856.44 545.6,856.57 546.74,856.69 547.88,856.81 549.02,856.94 550.16,857.06 551.3,857.18 552.44,857.3 553.58,857.43 554.72,857.55 555.86,857.67 557,857.79 558.14,857.91 559.28,858.03 560.42,858.16 561.56,858.28 562.7,858.4 563.84,858.52 564.98,858.64 566.12,858.76 567.26,858.87 568.4,858.99 569.53,859.11 570.67,859.23 571.81,859.35 572.95,859.47 574.09,859.58 575.23,859.7 576.37,859.82 577.51,859.93 578.65,860.05 579.79,860.16 580.93,860.28 582.07,860.39 583.21,860.51 584.35,860.62 585.49,860.73 586.63,860.85 587.77,860.96 588.91,861.07 590.05,861.18 591.19,861.29 592.33,861.41 593.47,861.52 594.61,861.63 595.74,861.74 596.88,861.85 598.02,861.96 599.16,862.06 600.3,862.17 601.44,862.28 602.58,862.39 603.72,862.5" fill="none" stroke="#ff0000" stroke-width="3.8" stroke-linejoin="round"/>
<line x1="407" y1="603.8" x2="437" y2="603.8" stroke="#ff00ff" stroke-width="3.7" stroke-dasharray="12.2 2.2"/>
<line x1="407" y1="623.3" x2="437" y2="623.3" stroke="#0000ff" stroke-width="3.7" stroke-dasharray="1.4 2.4 10.7 2.3"/>
<text class="lg" transform="translate(444 590) scale(1 0.95)">y=-3 </text>
<text class="lg" transform="translate(478.35 590) scale(1 0.95)">p+Pb</text>
<path d="M513.27 586.2H528.27M523.67 583.5Q525.67 585.6 528.27 586.2Q525.67 586.8 523.67 588.9" fill="none" stroke="#000" stroke-width="0.9"/>
<text class="lg" transform="translate(528.87 590) scale(1 0.95)">Pb+p+J/</text>
<text class="lg gi" transform="translate(583.29 590) scale(1 0.95)">ψ</text>
<text class="lg" transform="translate(444 609.7) scale(1 0.95)">low energy </text>
<g transform="translate(520.54 609.7)" fill="none" stroke="#000" stroke-linecap="round"><path d="M0.2,-4C0.6,-5.8 1.4,-6.9 2.6,-6.9C4.6,-6.9 5.7,-3.5 5.4,-0.5L4.9,3" stroke-width="1.05"/><path d="M8.3,-6.9C7.6,-4.5 6.5,-2.3 5.4,-0.5" stroke-width="0.8"/></g>
<text class="lg" transform="translate(529.04 609.7) scale(1 0.95)">A</text>
<path d="M545.8 605.9H560.8M556.2 603.2Q558.2 605.3 560.8 605.9Q558.2 606.5 556.2 608.6" fill="none" stroke="#000" stroke-width="0.9"/>
<text class="lg" transform="translate(561.3 609.7) scale(1 0.95)">AJ/</text>
<text class="lg gi" transform="translate(584.22 609.7) scale(1 0.95)">ψ</text>
<text class="lg" transform="translate(444 629.5) scale(1 0.95)">high energy </text>
<g transform="translate(524.99 629.5)" fill="none" stroke="#000" stroke-linecap="round"><path d="M0.2,-4C0.6,-5.8 1.4,-6.9 2.6,-6.9C4.6,-6.9 5.7,-3.5 5.4,-0.5L4.9,3" stroke-width="1.05"/><path d="M8.3,-6.9C7.6,-4.5 6.5,-2.3 5.4,-0.5" stroke-width="0.8"/></g>
<text class="lg" transform="translate(533.49 629.5) scale(1 0.95)">p</text>
<path d="M545.79 625.7H560.79M556.19 623Q558.19 625.1 560.79 625.7Q558.19 626.3 556.19 628.4" fill="none" stroke="#000" stroke-width="0.9"/>
<text class="lg" transform="translate(561.29 629.5) scale(1 0.95)">pJ/</text>
<text class="lg gi" transform="translate(580.66 629.5) scale(1 0.95)">ψ</text>
</g>
</svg></body></html>
